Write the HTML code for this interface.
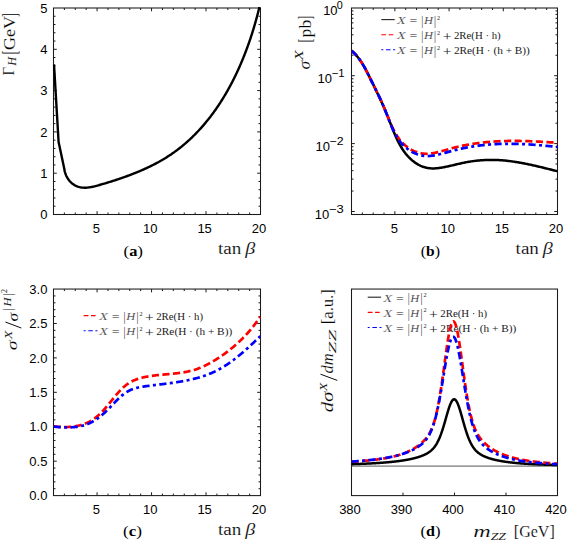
<!DOCTYPE html>
<html><head><meta charset="utf-8"><style>
html,body{margin:0;padding:0;background:#fff;}
svg{display:block;}
text.th{stroke:#fff;stroke-width:0.15px;}
</style></head><body>
<svg width="568" height="542" viewBox="0 0 568 542">
<defs>
<clipPath id="ca"><rect x="52.5" y="7.0" width="209.0" height="208.5"/></clipPath>
<clipPath id="cb"><rect x="351.5" y="8.0" width="206.0" height="206.5"/></clipPath>
<clipPath id="cc"><rect x="53.5" y="289.05" width="207.0" height="206.55"/></clipPath>
<clipPath id="cd"><rect x="351.5" y="289.05" width="206.0" height="206.55"/></clipPath>
</defs>
<rect width="568" height="542" fill="#fff"/>
<line x1="381.3" y1="19.6" x2="394.7" y2="19.6" stroke="#222" stroke-width="1.1"/>
<text x="397.00" y="24.20" font-size="10.6" font-family="'Liberation Serif', serif" fill="#222" textLength="8.60" lengthAdjust="spacingAndGlyphs" font-style="italic" stroke="#fff" stroke-width="0.2">X</text>
<text x="409.50" y="24.20" font-size="10.6" font-family="'Liberation Serif', serif" fill="#222" textLength="7.80" lengthAdjust="spacingAndGlyphs" >=</text>
<text x="421.30" y="24.80" font-size="12" font-family="'Liberation Serif', serif" fill="#222" textLength="2.00" lengthAdjust="spacingAndGlyphs" >|</text>
<text x="423.90" y="24.20" font-size="10.6" font-family="'Liberation Serif', serif" fill="#222" textLength="9.00" lengthAdjust="spacingAndGlyphs" font-style="italic" stroke="#fff" stroke-width="0.2">H</text>
<text x="434.10" y="24.80" font-size="12" font-family="'Liberation Serif', serif" fill="#222" textLength="2.00" lengthAdjust="spacingAndGlyphs" >|</text>
<text x="437.10" y="19.60" font-size="7.0" font-family="'Liberation Serif', serif" fill="#222" textLength="3.10" lengthAdjust="spacingAndGlyphs" >2</text>
<line x1="381.3" y1="34.8" x2="393.3" y2="34.8" stroke="#ff0000" stroke-width="1.1" stroke-dasharray="4.8,2.6"/>
<text x="397.00" y="39.40" font-size="10.6" font-family="'Liberation Serif', serif" fill="#222" textLength="8.60" lengthAdjust="spacingAndGlyphs" font-style="italic" stroke="#fff" stroke-width="0.2">X</text>
<text x="409.50" y="39.40" font-size="10.6" font-family="'Liberation Serif', serif" fill="#222" textLength="7.80" lengthAdjust="spacingAndGlyphs" >=</text>
<text x="421.30" y="40.00" font-size="12" font-family="'Liberation Serif', serif" fill="#222" textLength="2.00" lengthAdjust="spacingAndGlyphs" >|</text>
<text x="423.90" y="39.40" font-size="10.6" font-family="'Liberation Serif', serif" fill="#222" textLength="9.00" lengthAdjust="spacingAndGlyphs" font-style="italic" stroke="#fff" stroke-width="0.2">H</text>
<text x="434.10" y="40.00" font-size="12" font-family="'Liberation Serif', serif" fill="#222" textLength="2.00" lengthAdjust="spacingAndGlyphs" >|</text>
<text x="437.10" y="34.80" font-size="7.0" font-family="'Liberation Serif', serif" fill="#222" textLength="3.10" lengthAdjust="spacingAndGlyphs" >2</text>
<text x="442.70" y="40.90" font-size="12.5" font-family="'Liberation Serif', serif" fill="#222" textLength="8.80" lengthAdjust="spacingAndGlyphs" >+</text>
<text x="453.90" y="39.40" font-size="10.6" font-family="'Liberation Serif', serif" fill="#222" textLength="46.80" lengthAdjust="spacingAndGlyphs" >2Re(H · h)</text>
<line x1="381.3" y1="49.8" x2="395.1" y2="49.8" stroke="#0000ff" stroke-width="1.1" stroke-dasharray="2,2.7,4.5,2.6,2"/>
<text x="397.00" y="54.40" font-size="10.6" font-family="'Liberation Serif', serif" fill="#222" textLength="8.60" lengthAdjust="spacingAndGlyphs" font-style="italic" stroke="#fff" stroke-width="0.2">X</text>
<text x="409.50" y="54.40" font-size="10.6" font-family="'Liberation Serif', serif" fill="#222" textLength="7.80" lengthAdjust="spacingAndGlyphs" >=</text>
<text x="421.30" y="55.00" font-size="12" font-family="'Liberation Serif', serif" fill="#222" textLength="2.00" lengthAdjust="spacingAndGlyphs" >|</text>
<text x="423.90" y="54.40" font-size="10.6" font-family="'Liberation Serif', serif" fill="#222" textLength="9.00" lengthAdjust="spacingAndGlyphs" font-style="italic" stroke="#fff" stroke-width="0.2">H</text>
<text x="434.10" y="55.00" font-size="12" font-family="'Liberation Serif', serif" fill="#222" textLength="2.00" lengthAdjust="spacingAndGlyphs" >|</text>
<text x="437.10" y="49.80" font-size="7.0" font-family="'Liberation Serif', serif" fill="#222" textLength="3.10" lengthAdjust="spacingAndGlyphs" >2</text>
<text x="442.70" y="55.90" font-size="12.5" font-family="'Liberation Serif', serif" fill="#222" textLength="8.80" lengthAdjust="spacingAndGlyphs" >+</text>
<text x="453.90" y="54.40" font-size="10.6" font-family="'Liberation Serif', serif" fill="#222" textLength="76.00" lengthAdjust="spacingAndGlyphs" >2Re(H · (h + B))</text>
<line x1="83.6" y1="315.6" x2="95.6" y2="315.6" stroke="#ff0000" stroke-width="1.1" stroke-dasharray="4.8,2.6"/>
<text x="99.30" y="320.20" font-size="10.6" font-family="'Liberation Serif', serif" fill="#222" textLength="8.60" lengthAdjust="spacingAndGlyphs" font-style="italic" stroke="#fff" stroke-width="0.2">X</text>
<text x="111.80" y="320.20" font-size="10.6" font-family="'Liberation Serif', serif" fill="#222" textLength="7.80" lengthAdjust="spacingAndGlyphs" >=</text>
<text x="123.60" y="320.80" font-size="12" font-family="'Liberation Serif', serif" fill="#222" textLength="2.00" lengthAdjust="spacingAndGlyphs" >|</text>
<text x="126.20" y="320.20" font-size="10.6" font-family="'Liberation Serif', serif" fill="#222" textLength="9.00" lengthAdjust="spacingAndGlyphs" font-style="italic" stroke="#fff" stroke-width="0.2">H</text>
<text x="136.40" y="320.80" font-size="12" font-family="'Liberation Serif', serif" fill="#222" textLength="2.00" lengthAdjust="spacingAndGlyphs" >|</text>
<text x="139.40" y="315.60" font-size="7.0" font-family="'Liberation Serif', serif" fill="#222" textLength="3.10" lengthAdjust="spacingAndGlyphs" >2</text>
<text x="145.00" y="321.70" font-size="12.5" font-family="'Liberation Serif', serif" fill="#222" textLength="8.80" lengthAdjust="spacingAndGlyphs" >+</text>
<text x="156.20" y="320.20" font-size="10.6" font-family="'Liberation Serif', serif" fill="#222" textLength="46.80" lengthAdjust="spacingAndGlyphs" >2Re(H · h)</text>
<line x1="83.6" y1="330.8" x2="97.39999999999999" y2="330.8" stroke="#0000ff" stroke-width="1.1" stroke-dasharray="2,2.7,4.5,2.6,2"/>
<text x="99.30" y="335.40" font-size="10.6" font-family="'Liberation Serif', serif" fill="#222" textLength="8.60" lengthAdjust="spacingAndGlyphs" font-style="italic" stroke="#fff" stroke-width="0.2">X</text>
<text x="111.80" y="335.40" font-size="10.6" font-family="'Liberation Serif', serif" fill="#222" textLength="7.80" lengthAdjust="spacingAndGlyphs" >=</text>
<text x="123.60" y="336.00" font-size="12" font-family="'Liberation Serif', serif" fill="#222" textLength="2.00" lengthAdjust="spacingAndGlyphs" >|</text>
<text x="126.20" y="335.40" font-size="10.6" font-family="'Liberation Serif', serif" fill="#222" textLength="9.00" lengthAdjust="spacingAndGlyphs" font-style="italic" stroke="#fff" stroke-width="0.2">H</text>
<text x="136.40" y="336.00" font-size="12" font-family="'Liberation Serif', serif" fill="#222" textLength="2.00" lengthAdjust="spacingAndGlyphs" >|</text>
<text x="139.40" y="330.80" font-size="7.0" font-family="'Liberation Serif', serif" fill="#222" textLength="3.10" lengthAdjust="spacingAndGlyphs" >2</text>
<text x="145.00" y="336.90" font-size="12.5" font-family="'Liberation Serif', serif" fill="#222" textLength="8.80" lengthAdjust="spacingAndGlyphs" >+</text>
<text x="156.20" y="335.40" font-size="10.6" font-family="'Liberation Serif', serif" fill="#222" textLength="76.00" lengthAdjust="spacingAndGlyphs" >2Re(H · (h + B))</text>
<line x1="367.7" y1="297.2" x2="381.09999999999997" y2="297.2" stroke="#222" stroke-width="1.1"/>
<text x="383.40" y="301.80" font-size="10.6" font-family="'Liberation Serif', serif" fill="#222" textLength="8.60" lengthAdjust="spacingAndGlyphs" font-style="italic" stroke="#fff" stroke-width="0.2">X</text>
<text x="395.90" y="301.80" font-size="10.6" font-family="'Liberation Serif', serif" fill="#222" textLength="7.80" lengthAdjust="spacingAndGlyphs" >=</text>
<text x="407.70" y="302.40" font-size="12" font-family="'Liberation Serif', serif" fill="#222" textLength="2.00" lengthAdjust="spacingAndGlyphs" >|</text>
<text x="410.30" y="301.80" font-size="10.6" font-family="'Liberation Serif', serif" fill="#222" textLength="9.00" lengthAdjust="spacingAndGlyphs" font-style="italic" stroke="#fff" stroke-width="0.2">H</text>
<text x="420.50" y="302.40" font-size="12" font-family="'Liberation Serif', serif" fill="#222" textLength="2.00" lengthAdjust="spacingAndGlyphs" >|</text>
<text x="423.50" y="297.20" font-size="7.0" font-family="'Liberation Serif', serif" fill="#222" textLength="3.10" lengthAdjust="spacingAndGlyphs" >2</text>
<line x1="367.7" y1="312.4" x2="379.7" y2="312.4" stroke="#ff0000" stroke-width="1.1" stroke-dasharray="4.8,2.6"/>
<text x="383.40" y="317.00" font-size="10.6" font-family="'Liberation Serif', serif" fill="#222" textLength="8.60" lengthAdjust="spacingAndGlyphs" font-style="italic" stroke="#fff" stroke-width="0.2">X</text>
<text x="395.90" y="317.00" font-size="10.6" font-family="'Liberation Serif', serif" fill="#222" textLength="7.80" lengthAdjust="spacingAndGlyphs" >=</text>
<text x="407.70" y="317.60" font-size="12" font-family="'Liberation Serif', serif" fill="#222" textLength="2.00" lengthAdjust="spacingAndGlyphs" >|</text>
<text x="410.30" y="317.00" font-size="10.6" font-family="'Liberation Serif', serif" fill="#222" textLength="9.00" lengthAdjust="spacingAndGlyphs" font-style="italic" stroke="#fff" stroke-width="0.2">H</text>
<text x="420.50" y="317.60" font-size="12" font-family="'Liberation Serif', serif" fill="#222" textLength="2.00" lengthAdjust="spacingAndGlyphs" >|</text>
<text x="423.50" y="312.40" font-size="7.0" font-family="'Liberation Serif', serif" fill="#222" textLength="3.10" lengthAdjust="spacingAndGlyphs" >2</text>
<text x="429.10" y="318.50" font-size="12.5" font-family="'Liberation Serif', serif" fill="#222" textLength="8.80" lengthAdjust="spacingAndGlyphs" >+</text>
<text x="440.30" y="317.00" font-size="10.6" font-family="'Liberation Serif', serif" fill="#222" textLength="46.80" lengthAdjust="spacingAndGlyphs" >2Re(H · h)</text>
<line x1="367.7" y1="327.5" x2="381.5" y2="327.5" stroke="#0000ff" stroke-width="1.1" stroke-dasharray="2,2.7,4.5,2.6,2"/>
<text x="383.40" y="332.10" font-size="10.6" font-family="'Liberation Serif', serif" fill="#222" textLength="8.60" lengthAdjust="spacingAndGlyphs" font-style="italic" stroke="#fff" stroke-width="0.2">X</text>
<text x="395.90" y="332.10" font-size="10.6" font-family="'Liberation Serif', serif" fill="#222" textLength="7.80" lengthAdjust="spacingAndGlyphs" >=</text>
<text x="407.70" y="332.70" font-size="12" font-family="'Liberation Serif', serif" fill="#222" textLength="2.00" lengthAdjust="spacingAndGlyphs" >|</text>
<text x="410.30" y="332.10" font-size="10.6" font-family="'Liberation Serif', serif" fill="#222" textLength="9.00" lengthAdjust="spacingAndGlyphs" font-style="italic" stroke="#fff" stroke-width="0.2">H</text>
<text x="420.50" y="332.70" font-size="12" font-family="'Liberation Serif', serif" fill="#222" textLength="2.00" lengthAdjust="spacingAndGlyphs" >|</text>
<text x="423.50" y="327.50" font-size="7.0" font-family="'Liberation Serif', serif" fill="#222" textLength="3.10" lengthAdjust="spacingAndGlyphs" >2</text>
<text x="429.10" y="333.60" font-size="12.5" font-family="'Liberation Serif', serif" fill="#222" textLength="8.80" lengthAdjust="spacingAndGlyphs" >+</text>
<text x="440.30" y="332.10" font-size="10.6" font-family="'Liberation Serif', serif" fill="#222" textLength="76.00" lengthAdjust="spacingAndGlyphs" >2Re(H · (h + B))</text>
<text x="123.5" y="256.3" font-size="15.5" font-family="'Liberation Serif', serif" textLength="19.50" lengthAdjust="spacingAndGlyphs">(<tspan font-weight="bold" font-size="15">a</tspan>)</text>
<text x="420.7" y="256.4" font-size="15.5" font-family="'Liberation Serif', serif" textLength="19.30" lengthAdjust="spacingAndGlyphs">(<tspan font-weight="bold" font-size="15">b</tspan>)</text>
<text x="123.1" y="536.0" font-size="15.5" font-family="'Liberation Serif', serif" textLength="18.90" lengthAdjust="spacingAndGlyphs">(<tspan font-weight="bold" font-size="15">c</tspan>)</text>
<text x="420.6" y="536.0" font-size="15.5" font-family="'Liberation Serif', serif" textLength="20.00" lengthAdjust="spacingAndGlyphs">(<tspan font-weight="bold" font-size="15">d</tspan>)</text>
<text class="th" x="218.00" y="253.90" font-size="16" font-family="'Liberation Serif', serif" fill="#000" textLength="23.30" lengthAdjust="spacingAndGlyphs" >tan</text>
<text class="th" x="245.20" y="253.90" font-size="16" font-family="'Liberation Serif', serif" fill="#000" textLength="10.00" lengthAdjust="spacingAndGlyphs" font-style="italic">β</text>
<text class="th" x="515.60" y="253.90" font-size="16" font-family="'Liberation Serif', serif" fill="#000" textLength="23.30" lengthAdjust="spacingAndGlyphs" >tan</text>
<text class="th" x="542.80" y="253.90" font-size="16" font-family="'Liberation Serif', serif" fill="#000" textLength="10.00" lengthAdjust="spacingAndGlyphs" font-style="italic">β</text>
<text class="th" x="218.00" y="534.50" font-size="16" font-family="'Liberation Serif', serif" fill="#000" textLength="23.30" lengthAdjust="spacingAndGlyphs" >tan</text>
<text class="th" x="245.20" y="534.50" font-size="16" font-family="'Liberation Serif', serif" fill="#000" textLength="10.00" lengthAdjust="spacingAndGlyphs" font-style="italic">β</text>
<text class="th" x="473.20" y="536.80" font-size="16" font-family="'Liberation Serif', serif" fill="#000" textLength="17.50" lengthAdjust="spacingAndGlyphs" font-style="italic">m</text>
<text x="490.70" y="539.80" font-size="11" font-family="'Liberation Serif', serif" fill="#222" textLength="15.30" lengthAdjust="spacingAndGlyphs" font-style="italic">ZZ</text>
<text class="th" x="513.80" y="536.80" font-size="16" font-family="'Liberation Serif', serif" fill="#000" textLength="41.00" lengthAdjust="spacingAndGlyphs" >[GeV]</text>
<text class="th" transform="translate(14.40,75.60) rotate(-90)" x="0" y="0" font-size="17.6" font-family="'Liberation Serif', serif" fill="#000" textLength="8.80" lengthAdjust="spacingAndGlyphs" >Γ</text>
<text transform="translate(16.30,65.80) rotate(-90)" x="0" y="0" font-size="12" font-family="'Liberation Serif', serif" fill="#222" textLength="8.90" lengthAdjust="spacingAndGlyphs" font-style="italic">H</text>
<text class="th" transform="translate(15.80,54.20) rotate(-90)" x="0" y="0" font-size="20.8" font-family="'Liberation Serif', serif" fill="#000" textLength="3.60" lengthAdjust="spacingAndGlyphs" >[</text>
<text class="th" transform="translate(15.00,50.00) rotate(-90)" x="0" y="0" font-size="17" font-family="'Liberation Serif', serif" fill="#000" textLength="34.20" lengthAdjust="spacingAndGlyphs" >GeV</text>
<text class="th" transform="translate(15.80,17.10) rotate(-90)" x="0" y="0" font-size="20.8" font-family="'Liberation Serif', serif" fill="#000" textLength="3.60" lengthAdjust="spacingAndGlyphs" >]</text>
<text class="th" transform="translate(309.60,69.60) rotate(-90)" x="0" y="0" font-size="16" font-family="'Liberation Serif', serif" fill="#000" textLength="8.70" lengthAdjust="spacingAndGlyphs" font-style="italic">σ</text>
<text transform="translate(303.00,60.40) rotate(-90)" x="0" y="0" font-size="12" font-family="'Liberation Serif', serif" fill="#222" textLength="10.40" lengthAdjust="spacingAndGlyphs" font-style="italic">X</text>
<text class="th" transform="translate(310.70,42.20) rotate(-90)" x="0" y="0" font-size="19.4" font-family="'Liberation Serif', serif" fill="#000" textLength="3.60" lengthAdjust="spacingAndGlyphs" >[</text>
<text class="th" transform="translate(310.60,37.40) rotate(-90)" x="0" y="0" font-size="16" font-family="'Liberation Serif', serif" fill="#000" textLength="17.60" lengthAdjust="spacingAndGlyphs" >pb</text>
<text class="th" transform="translate(310.70,19.60) rotate(-90)" x="0" y="0" font-size="19.4" font-family="'Liberation Serif', serif" fill="#000" textLength="3.60" lengthAdjust="spacingAndGlyphs" >]</text>
<text class="th" transform="translate(17.40,350.20) rotate(-90)" x="0" y="0" font-size="15" font-family="'Liberation Serif', serif" fill="#000" textLength="9.80" lengthAdjust="spacingAndGlyphs" font-style="italic">σ</text>
<text transform="translate(11.60,339.20) rotate(-90)" x="0" y="0" font-size="11" font-family="'Liberation Serif', serif" fill="#222" textLength="8.60" lengthAdjust="spacingAndGlyphs" font-style="italic">X</text>
<line x1="5.4" y1="322.0" x2="21.3" y2="328.0" stroke="#000" stroke-width="0.95"/>
<text class="th" transform="translate(18.10,321.50) rotate(-90)" x="0" y="0" font-size="15" font-family="'Liberation Serif', serif" fill="#000" textLength="8.60" lengthAdjust="spacingAndGlyphs" font-style="italic">σ</text>
<text transform="translate(12.10,310.80) rotate(-90)" x="0" y="0" font-size="13" font-family="'Liberation Serif', serif" fill="#222" textLength="2.60" lengthAdjust="spacingAndGlyphs" >|</text>
<text transform="translate(11.00,306.40) rotate(-90)" x="0" y="0" font-size="11" font-family="'Liberation Serif', serif" fill="#222" textLength="9.00" lengthAdjust="spacingAndGlyphs" font-style="italic">H</text>
<text transform="translate(12.10,296.00) rotate(-90)" x="0" y="0" font-size="13" font-family="'Liberation Serif', serif" fill="#222" textLength="2.60" lengthAdjust="spacingAndGlyphs" >|</text>
<text transform="translate(7.10,293.00) rotate(-90)" x="0" y="0" font-size="8" font-family="'Liberation Serif', serif" fill="#222" textLength="4.00" lengthAdjust="spacingAndGlyphs" >2</text>
<text class="th" transform="translate(333.20,412.60) rotate(-90)" x="0" y="0" font-size="16" font-family="'Liberation Serif', serif" fill="#000" textLength="21.00" lengthAdjust="spacingAndGlyphs" font-style="italic">dσ</text>
<text transform="translate(326.60,391.20) rotate(-90)" x="0" y="0" font-size="11" font-family="'Liberation Serif', serif" fill="#222" textLength="8.60" lengthAdjust="spacingAndGlyphs" font-style="italic">X</text>
<line x1="320.5" y1="374.2" x2="337.3" y2="380.4" stroke="#000" stroke-width="0.95"/>
<text class="th" transform="translate(333.20,373.40) rotate(-90)" x="0" y="0" font-size="16" font-family="'Liberation Serif', serif" fill="#000" textLength="20.20" lengthAdjust="spacingAndGlyphs" font-style="italic">dm</text>
<text transform="translate(336.40,353.40) rotate(-90)" x="0" y="0" font-size="11" font-family="'Liberation Serif', serif" fill="#222" textLength="23.60" lengthAdjust="spacingAndGlyphs" font-style="italic">ZZ</text>
<text class="th" transform="translate(333.40,324.20) rotate(-90)" x="0" y="0" font-size="16" font-family="'Liberation Serif', serif" fill="#000" textLength="35.00" lengthAdjust="spacingAndGlyphs" >[a.u.]</text>
<text x="337.60" y="15.10" font-size="13" font-family="'Liberation Sans', sans-serif" text-anchor="end">10</text>
<text x="336.80" y="9.00" font-size="11" font-family="'Liberation Sans', sans-serif" textLength="6.00" lengthAdjust="spacingAndGlyphs">0</text>
<text x="332.00" y="83.00" font-size="13" font-family="'Liberation Sans', sans-serif" text-anchor="end">10</text>
<text x="331.70" y="76.90" font-size="11" font-family="'Liberation Sans', sans-serif" textLength="13.00" lengthAdjust="spacingAndGlyphs">−1</text>
<text x="329.90" y="150.90" font-size="13" font-family="'Liberation Sans', sans-serif" text-anchor="end">10</text>
<text x="329.60" y="144.80" font-size="11" font-family="'Liberation Sans', sans-serif" textLength="14.00" lengthAdjust="spacingAndGlyphs">−2</text>
<text x="329.20" y="218.80" font-size="13" font-family="'Liberation Sans', sans-serif" text-anchor="end">10</text>
<text x="328.90" y="212.70" font-size="11" font-family="'Liberation Sans', sans-serif" textLength="14.80" lengthAdjust="spacingAndGlyphs">−3</text>
<rect x="53.5" y="8.0" width="207.00" height="206.50" fill="none" stroke="#1a1a1a" stroke-width="1.05"/>
<line x1="53.5" y1="173.20" x2="56.8" y2="173.20" stroke="#1a1a1a" stroke-width="1.0"/>
<line x1="260.5" y1="173.20" x2="257.2" y2="173.20" stroke="#1a1a1a" stroke-width="1.0"/>
<line x1="53.5" y1="131.90" x2="56.8" y2="131.90" stroke="#1a1a1a" stroke-width="1.0"/>
<line x1="260.5" y1="131.90" x2="257.2" y2="131.90" stroke="#1a1a1a" stroke-width="1.0"/>
<line x1="53.5" y1="90.60" x2="56.8" y2="90.60" stroke="#1a1a1a" stroke-width="1.0"/>
<line x1="260.5" y1="90.60" x2="257.2" y2="90.60" stroke="#1a1a1a" stroke-width="1.0"/>
<line x1="53.5" y1="49.30" x2="56.8" y2="49.30" stroke="#1a1a1a" stroke-width="1.0"/>
<line x1="260.5" y1="49.30" x2="257.2" y2="49.30" stroke="#1a1a1a" stroke-width="1.0"/>
<line x1="53.5" y1="206.24" x2="55.5" y2="206.24" stroke="#1a1a1a" stroke-width="1.0"/>
<line x1="260.5" y1="206.24" x2="258.5" y2="206.24" stroke="#1a1a1a" stroke-width="1.0"/>
<line x1="53.5" y1="197.98" x2="55.5" y2="197.98" stroke="#1a1a1a" stroke-width="1.0"/>
<line x1="260.5" y1="197.98" x2="258.5" y2="197.98" stroke="#1a1a1a" stroke-width="1.0"/>
<line x1="53.5" y1="189.72" x2="55.5" y2="189.72" stroke="#1a1a1a" stroke-width="1.0"/>
<line x1="260.5" y1="189.72" x2="258.5" y2="189.72" stroke="#1a1a1a" stroke-width="1.0"/>
<line x1="53.5" y1="181.46" x2="55.5" y2="181.46" stroke="#1a1a1a" stroke-width="1.0"/>
<line x1="260.5" y1="181.46" x2="258.5" y2="181.46" stroke="#1a1a1a" stroke-width="1.0"/>
<line x1="53.5" y1="164.94" x2="55.5" y2="164.94" stroke="#1a1a1a" stroke-width="1.0"/>
<line x1="260.5" y1="164.94" x2="258.5" y2="164.94" stroke="#1a1a1a" stroke-width="1.0"/>
<line x1="53.5" y1="156.68" x2="55.5" y2="156.68" stroke="#1a1a1a" stroke-width="1.0"/>
<line x1="260.5" y1="156.68" x2="258.5" y2="156.68" stroke="#1a1a1a" stroke-width="1.0"/>
<line x1="53.5" y1="148.42" x2="55.5" y2="148.42" stroke="#1a1a1a" stroke-width="1.0"/>
<line x1="260.5" y1="148.42" x2="258.5" y2="148.42" stroke="#1a1a1a" stroke-width="1.0"/>
<line x1="53.5" y1="140.16" x2="55.5" y2="140.16" stroke="#1a1a1a" stroke-width="1.0"/>
<line x1="260.5" y1="140.16" x2="258.5" y2="140.16" stroke="#1a1a1a" stroke-width="1.0"/>
<line x1="53.5" y1="123.64" x2="55.5" y2="123.64" stroke="#1a1a1a" stroke-width="1.0"/>
<line x1="260.5" y1="123.64" x2="258.5" y2="123.64" stroke="#1a1a1a" stroke-width="1.0"/>
<line x1="53.5" y1="115.38" x2="55.5" y2="115.38" stroke="#1a1a1a" stroke-width="1.0"/>
<line x1="260.5" y1="115.38" x2="258.5" y2="115.38" stroke="#1a1a1a" stroke-width="1.0"/>
<line x1="53.5" y1="107.12" x2="55.5" y2="107.12" stroke="#1a1a1a" stroke-width="1.0"/>
<line x1="260.5" y1="107.12" x2="258.5" y2="107.12" stroke="#1a1a1a" stroke-width="1.0"/>
<line x1="53.5" y1="98.86" x2="55.5" y2="98.86" stroke="#1a1a1a" stroke-width="1.0"/>
<line x1="260.5" y1="98.86" x2="258.5" y2="98.86" stroke="#1a1a1a" stroke-width="1.0"/>
<line x1="53.5" y1="82.34" x2="55.5" y2="82.34" stroke="#1a1a1a" stroke-width="1.0"/>
<line x1="260.5" y1="82.34" x2="258.5" y2="82.34" stroke="#1a1a1a" stroke-width="1.0"/>
<line x1="53.5" y1="74.08" x2="55.5" y2="74.08" stroke="#1a1a1a" stroke-width="1.0"/>
<line x1="260.5" y1="74.08" x2="258.5" y2="74.08" stroke="#1a1a1a" stroke-width="1.0"/>
<line x1="53.5" y1="65.82" x2="55.5" y2="65.82" stroke="#1a1a1a" stroke-width="1.0"/>
<line x1="260.5" y1="65.82" x2="258.5" y2="65.82" stroke="#1a1a1a" stroke-width="1.0"/>
<line x1="53.5" y1="57.56" x2="55.5" y2="57.56" stroke="#1a1a1a" stroke-width="1.0"/>
<line x1="260.5" y1="57.56" x2="258.5" y2="57.56" stroke="#1a1a1a" stroke-width="1.0"/>
<line x1="53.5" y1="41.04" x2="55.5" y2="41.04" stroke="#1a1a1a" stroke-width="1.0"/>
<line x1="260.5" y1="41.04" x2="258.5" y2="41.04" stroke="#1a1a1a" stroke-width="1.0"/>
<line x1="53.5" y1="32.78" x2="55.5" y2="32.78" stroke="#1a1a1a" stroke-width="1.0"/>
<line x1="260.5" y1="32.78" x2="258.5" y2="32.78" stroke="#1a1a1a" stroke-width="1.0"/>
<line x1="53.5" y1="24.52" x2="55.5" y2="24.52" stroke="#1a1a1a" stroke-width="1.0"/>
<line x1="260.5" y1="24.52" x2="258.5" y2="24.52" stroke="#1a1a1a" stroke-width="1.0"/>
<line x1="53.5" y1="16.26" x2="55.5" y2="16.26" stroke="#1a1a1a" stroke-width="1.0"/>
<line x1="260.5" y1="16.26" x2="258.5" y2="16.26" stroke="#1a1a1a" stroke-width="1.0"/>
<line x1="97.08" y1="214.5" x2="97.08" y2="211.2" stroke="#1a1a1a" stroke-width="1.0"/>
<line x1="97.08" y1="8.0" x2="97.08" y2="11.3" stroke="#1a1a1a" stroke-width="1.0"/>
<line x1="151.55" y1="214.5" x2="151.55" y2="211.2" stroke="#1a1a1a" stroke-width="1.0"/>
<line x1="151.55" y1="8.0" x2="151.55" y2="11.3" stroke="#1a1a1a" stroke-width="1.0"/>
<line x1="206.03" y1="214.5" x2="206.03" y2="211.2" stroke="#1a1a1a" stroke-width="1.0"/>
<line x1="206.03" y1="8.0" x2="206.03" y2="11.3" stroke="#1a1a1a" stroke-width="1.0"/>
<line x1="64.39" y1="214.5" x2="64.39" y2="212.5" stroke="#1a1a1a" stroke-width="1.0"/>
<line x1="64.39" y1="8.0" x2="64.39" y2="10.0" stroke="#1a1a1a" stroke-width="1.0"/>
<line x1="75.29" y1="214.5" x2="75.29" y2="212.5" stroke="#1a1a1a" stroke-width="1.0"/>
<line x1="75.29" y1="8.0" x2="75.29" y2="10.0" stroke="#1a1a1a" stroke-width="1.0"/>
<line x1="86.18" y1="214.5" x2="86.18" y2="212.5" stroke="#1a1a1a" stroke-width="1.0"/>
<line x1="86.18" y1="8.0" x2="86.18" y2="10.0" stroke="#1a1a1a" stroke-width="1.0"/>
<line x1="107.97" y1="214.5" x2="107.97" y2="212.5" stroke="#1a1a1a" stroke-width="1.0"/>
<line x1="107.97" y1="8.0" x2="107.97" y2="10.0" stroke="#1a1a1a" stroke-width="1.0"/>
<line x1="118.87" y1="214.5" x2="118.87" y2="212.5" stroke="#1a1a1a" stroke-width="1.0"/>
<line x1="118.87" y1="8.0" x2="118.87" y2="10.0" stroke="#1a1a1a" stroke-width="1.0"/>
<line x1="129.76" y1="214.5" x2="129.76" y2="212.5" stroke="#1a1a1a" stroke-width="1.0"/>
<line x1="129.76" y1="8.0" x2="129.76" y2="10.0" stroke="#1a1a1a" stroke-width="1.0"/>
<line x1="140.66" y1="214.5" x2="140.66" y2="212.5" stroke="#1a1a1a" stroke-width="1.0"/>
<line x1="140.66" y1="8.0" x2="140.66" y2="10.0" stroke="#1a1a1a" stroke-width="1.0"/>
<line x1="162.45" y1="214.5" x2="162.45" y2="212.5" stroke="#1a1a1a" stroke-width="1.0"/>
<line x1="162.45" y1="8.0" x2="162.45" y2="10.0" stroke="#1a1a1a" stroke-width="1.0"/>
<line x1="173.34" y1="214.5" x2="173.34" y2="212.5" stroke="#1a1a1a" stroke-width="1.0"/>
<line x1="173.34" y1="8.0" x2="173.34" y2="10.0" stroke="#1a1a1a" stroke-width="1.0"/>
<line x1="184.24" y1="214.5" x2="184.24" y2="212.5" stroke="#1a1a1a" stroke-width="1.0"/>
<line x1="184.24" y1="8.0" x2="184.24" y2="10.0" stroke="#1a1a1a" stroke-width="1.0"/>
<line x1="195.13" y1="214.5" x2="195.13" y2="212.5" stroke="#1a1a1a" stroke-width="1.0"/>
<line x1="195.13" y1="8.0" x2="195.13" y2="10.0" stroke="#1a1a1a" stroke-width="1.0"/>
<line x1="216.92" y1="214.5" x2="216.92" y2="212.5" stroke="#1a1a1a" stroke-width="1.0"/>
<line x1="216.92" y1="8.0" x2="216.92" y2="10.0" stroke="#1a1a1a" stroke-width="1.0"/>
<line x1="227.82" y1="214.5" x2="227.82" y2="212.5" stroke="#1a1a1a" stroke-width="1.0"/>
<line x1="227.82" y1="8.0" x2="227.82" y2="10.0" stroke="#1a1a1a" stroke-width="1.0"/>
<line x1="238.71" y1="214.5" x2="238.71" y2="212.5" stroke="#1a1a1a" stroke-width="1.0"/>
<line x1="238.71" y1="8.0" x2="238.71" y2="10.0" stroke="#1a1a1a" stroke-width="1.0"/>
<line x1="249.61" y1="214.5" x2="249.61" y2="212.5" stroke="#1a1a1a" stroke-width="1.0"/>
<line x1="249.61" y1="8.0" x2="249.61" y2="10.0" stroke="#1a1a1a" stroke-width="1.0"/>
<text x="96.48" y="232.80" font-size="13" text-anchor="middle" font-family="'Liberation Sans', sans-serif" >5</text>
<text x="150.15" y="232.80" font-size="13" text-anchor="middle" font-family="'Liberation Sans', sans-serif" >10</text>
<text x="204.63" y="232.80" font-size="13" text-anchor="middle" font-family="'Liberation Sans', sans-serif" >15</text>
<text x="259.10" y="232.80" font-size="13" text-anchor="middle" font-family="'Liberation Sans', sans-serif" >20</text>
<text x="47.40" y="219.20" font-size="13" text-anchor="end" font-family="'Liberation Sans', sans-serif" >0</text>
<text x="47.40" y="177.90" font-size="13" text-anchor="end" font-family="'Liberation Sans', sans-serif" >1</text>
<text x="47.40" y="136.60" font-size="13" text-anchor="end" font-family="'Liberation Sans', sans-serif" >2</text>
<text x="47.40" y="95.30" font-size="13" text-anchor="end" font-family="'Liberation Sans', sans-serif" >3</text>
<text x="47.40" y="54.00" font-size="13" text-anchor="end" font-family="'Liberation Sans', sans-serif" >4</text>
<text x="47.40" y="12.70" font-size="13" text-anchor="end" font-family="'Liberation Sans', sans-serif" >5</text>
<path d="M54.00,64.40 L58.60,142.00 L64.50,169.80 L64.50,169.80 L64.50,170.40 L64.82,171.66 L65.18,172.87 L65.58,174.02 L66.02,175.13 L66.50,176.19 L67.01,177.19 L67.56,178.15 L68.13,179.06 L68.74,179.92 L69.38,180.73 L70.04,181.49 L70.73,182.21 L71.45,182.88 L72.19,183.50 L72.95,184.08 L73.73,184.62 L74.53,185.11 L75.35,185.55 L76.18,185.95 L77.03,186.31 L77.89,186.63 L78.76,186.90 L79.65,187.14 L80.54,187.33 L81.44,187.48 L82.34,187.59 L83.25,187.67 L84.17,187.71 L85.09,187.71 L86.02,187.69 L86.95,187.63 L87.89,187.55 L88.83,187.43 L89.77,187.30 L90.72,187.14 L91.67,186.96 L92.63,186.76 L93.58,186.55 L94.54,186.32 L95.50,186.08 L96.47,185.83 L97.43,185.57 L98.40,185.30 L99.36,185.02 L100.33,184.74 L101.30,184.46 L102.27,184.18 L103.23,183.90 L104.20,183.61 L105.17,183.32 L106.14,183.03 L107.11,182.74 L108.08,182.44 L109.05,182.15 L110.02,181.85 L110.98,181.55 L111.95,181.24 L112.92,180.93 L113.89,180.62 L114.85,180.31 L115.82,180.00 L116.79,179.68 L117.75,179.36 L118.72,179.04 L119.68,178.71 L120.64,178.38 L121.61,178.05 L122.57,177.72 L123.53,177.38 L124.49,177.04 L125.44,176.70 L126.40,176.35 L127.36,176.00 L128.31,175.65 L129.26,175.29 L130.22,174.93 L131.17,174.57 L132.11,174.20 L133.06,173.84 L134.01,173.46 L134.95,173.09 L135.89,172.71 L136.83,172.32 L137.77,171.94 L138.71,171.55 L139.64,171.15 L140.57,170.76 L141.50,170.35 L142.43,169.95 L143.35,169.54 L144.28,169.13 L145.20,168.71 L146.12,168.29 L147.03,167.86 L147.94,167.43 L148.85,167.00 L149.76,166.56 L150.67,166.12 L151.57,165.68 L152.47,165.23 L153.36,164.77 L154.26,164.31 L155.15,163.85 L156.03,163.38 L156.92,162.91 L157.80,162.43 L158.68,161.95 L159.55,161.46 L160.42,160.97 L161.29,160.48 L162.15,159.98 L163.01,159.47 L163.87,158.96 L164.72,158.45 L165.57,157.93 L166.41,157.40 L167.26,156.87 L168.09,156.34 L168.93,155.80 L169.75,155.26 L170.58,154.71 L171.40,154.15 L172.22,153.59 L173.03,153.02 L173.84,152.45 L174.64,151.88 L175.44,151.30 L176.24,150.71 L177.03,150.12 L177.82,149.53 L178.60,148.93 L179.38,148.32 L180.16,147.71 L180.93,147.10 L181.70,146.48 L182.46,145.85 L183.22,145.23 L183.98,144.59 L184.73,143.95 L185.47,143.31 L186.22,142.67 L186.96,142.01 L187.69,141.36 L188.43,140.70 L189.15,140.03 L189.88,139.37 L190.60,138.69 L191.31,138.01 L192.03,137.33 L192.74,136.65 L193.44,135.96 L194.14,135.26 L194.84,134.56 L195.53,133.86 L196.22,133.16 L196.90,132.44 L197.59,131.73 L198.26,131.01 L198.94,130.29 L199.61,129.56 L200.27,128.83 L200.94,128.10 L201.59,127.36 L202.25,126.62 L202.90,125.87 L203.55,125.13 L204.19,124.37 L204.83,123.62 L205.47,122.86 L206.10,122.09 L206.73,121.33 L207.35,120.56 L207.97,119.78 L208.59,119.01 L209.21,118.23 L209.82,117.44 L210.42,116.66 L211.03,115.87 L211.63,115.07 L212.22,114.27 L212.81,113.47 L213.40,112.67 L213.99,111.86 L214.57,111.06 L215.14,110.24 L215.72,109.43 L216.29,108.61 L216.86,107.79 L217.42,106.96 L217.98,106.14 L218.54,105.31 L219.09,104.47 L219.64,103.64 L220.18,102.80 L220.73,101.96 L221.26,101.11 L221.80,100.27 L222.33,99.42 L222.86,98.57 L223.38,97.71 L223.91,96.86 L224.42,96.00 L224.94,95.14 L225.45,94.27 L225.96,93.40 L226.46,92.54 L226.96,91.66 L227.46,90.79 L227.95,89.92 L228.44,89.04 L228.93,88.16 L229.42,87.28 L229.90,86.39 L230.37,85.50 L230.85,84.62 L231.32,83.73 L231.78,82.83 L232.25,81.94 L232.71,81.04 L233.17,80.14 L233.62,79.24 L234.07,78.34 L234.52,77.44 L234.96,76.53 L235.41,75.63 L235.84,74.72 L236.28,73.81 L236.71,72.89 L237.14,71.98 L237.56,71.07 L237.98,70.15 L238.40,69.23 L238.82,68.31 L239.23,67.39 L239.64,66.47 L240.05,65.54 L240.45,64.62 L240.85,63.69 L241.24,62.76 L241.64,61.84 L242.03,60.91 L242.42,59.97 L242.80,59.04 L243.18,58.11 L243.56,57.17 L243.93,56.24 L244.31,55.30 L244.67,54.37 L245.04,53.43 L245.40,52.49 L245.76,51.55 L246.12,50.61 L246.47,49.66 L246.82,48.72 L247.17,47.78 L247.52,46.84 L247.86,45.89 L248.20,44.95 L248.53,44.00 L248.87,43.05 L249.20,42.11 L249.52,41.16 L249.85,40.21 L250.17,39.26 L250.49,38.32 L250.80,37.37 L251.12,36.42 L251.42,35.47 L251.73,34.52 L252.04,33.57 L252.34,32.62 L252.64,31.67 L252.93,30.72 L253.22,29.77 L253.51,28.82 L253.80,27.87 L254.08,26.92 L254.37,25.97 L254.64,25.02 L254.92,24.06 L255.19,23.11 L255.46,22.16 L255.73,21.22 L256.00,20.27 L256.26,19.32 L256.52,18.37 L256.78,17.42 L257.03,16.47 L257.28,15.52 L257.53,14.58 L257.78,13.63 L258.02,12.68 L258.26,11.74 L258.50,10.79 L258.73,9.85 L258.97,8.90 L259.20,7.96 L259.42,7.02" fill="none" stroke="#000" stroke-width="2.4" stroke-linejoin="round" clip-path="url(#ca)"/>
<rect x="351.5" y="8.0" width="206.00" height="206.50" fill="none" stroke="#1a1a1a" stroke-width="1.05"/>
<line x1="351.5" y1="75.70" x2="354.8" y2="75.70" stroke="#1a1a1a" stroke-width="1.0"/>
<line x1="557.5" y1="75.70" x2="554.2" y2="75.70" stroke="#1a1a1a" stroke-width="1.0"/>
<line x1="351.5" y1="143.60" x2="354.8" y2="143.60" stroke="#1a1a1a" stroke-width="1.0"/>
<line x1="557.5" y1="143.60" x2="554.2" y2="143.60" stroke="#1a1a1a" stroke-width="1.0"/>
<line x1="351.5" y1="211.50" x2="354.8" y2="211.50" stroke="#1a1a1a" stroke-width="1.0"/>
<line x1="557.5" y1="211.50" x2="554.2" y2="211.50" stroke="#1a1a1a" stroke-width="1.0"/>
<line x1="351.5" y1="55.26" x2="353.5" y2="55.26" stroke="#1a1a1a" stroke-width="1.0"/>
<line x1="557.5" y1="55.26" x2="555.5" y2="55.26" stroke="#1a1a1a" stroke-width="1.0"/>
<line x1="351.5" y1="43.30" x2="353.5" y2="43.30" stroke="#1a1a1a" stroke-width="1.0"/>
<line x1="557.5" y1="43.30" x2="555.5" y2="43.30" stroke="#1a1a1a" stroke-width="1.0"/>
<line x1="351.5" y1="34.82" x2="353.5" y2="34.82" stroke="#1a1a1a" stroke-width="1.0"/>
<line x1="557.5" y1="34.82" x2="555.5" y2="34.82" stroke="#1a1a1a" stroke-width="1.0"/>
<line x1="351.5" y1="28.24" x2="353.5" y2="28.24" stroke="#1a1a1a" stroke-width="1.0"/>
<line x1="557.5" y1="28.24" x2="555.5" y2="28.24" stroke="#1a1a1a" stroke-width="1.0"/>
<line x1="351.5" y1="22.86" x2="353.5" y2="22.86" stroke="#1a1a1a" stroke-width="1.0"/>
<line x1="557.5" y1="22.86" x2="555.5" y2="22.86" stroke="#1a1a1a" stroke-width="1.0"/>
<line x1="351.5" y1="18.32" x2="353.5" y2="18.32" stroke="#1a1a1a" stroke-width="1.0"/>
<line x1="557.5" y1="18.32" x2="555.5" y2="18.32" stroke="#1a1a1a" stroke-width="1.0"/>
<line x1="351.5" y1="14.38" x2="353.5" y2="14.38" stroke="#1a1a1a" stroke-width="1.0"/>
<line x1="557.5" y1="14.38" x2="555.5" y2="14.38" stroke="#1a1a1a" stroke-width="1.0"/>
<line x1="351.5" y1="10.91" x2="353.5" y2="10.91" stroke="#1a1a1a" stroke-width="1.0"/>
<line x1="557.5" y1="10.91" x2="555.5" y2="10.91" stroke="#1a1a1a" stroke-width="1.0"/>
<line x1="351.5" y1="123.16" x2="353.5" y2="123.16" stroke="#1a1a1a" stroke-width="1.0"/>
<line x1="557.5" y1="123.16" x2="555.5" y2="123.16" stroke="#1a1a1a" stroke-width="1.0"/>
<line x1="351.5" y1="111.20" x2="353.5" y2="111.20" stroke="#1a1a1a" stroke-width="1.0"/>
<line x1="557.5" y1="111.20" x2="555.5" y2="111.20" stroke="#1a1a1a" stroke-width="1.0"/>
<line x1="351.5" y1="102.72" x2="353.5" y2="102.72" stroke="#1a1a1a" stroke-width="1.0"/>
<line x1="557.5" y1="102.72" x2="555.5" y2="102.72" stroke="#1a1a1a" stroke-width="1.0"/>
<line x1="351.5" y1="96.14" x2="353.5" y2="96.14" stroke="#1a1a1a" stroke-width="1.0"/>
<line x1="557.5" y1="96.14" x2="555.5" y2="96.14" stroke="#1a1a1a" stroke-width="1.0"/>
<line x1="351.5" y1="90.76" x2="353.5" y2="90.76" stroke="#1a1a1a" stroke-width="1.0"/>
<line x1="557.5" y1="90.76" x2="555.5" y2="90.76" stroke="#1a1a1a" stroke-width="1.0"/>
<line x1="351.5" y1="86.22" x2="353.5" y2="86.22" stroke="#1a1a1a" stroke-width="1.0"/>
<line x1="557.5" y1="86.22" x2="555.5" y2="86.22" stroke="#1a1a1a" stroke-width="1.0"/>
<line x1="351.5" y1="82.28" x2="353.5" y2="82.28" stroke="#1a1a1a" stroke-width="1.0"/>
<line x1="557.5" y1="82.28" x2="555.5" y2="82.28" stroke="#1a1a1a" stroke-width="1.0"/>
<line x1="351.5" y1="78.81" x2="353.5" y2="78.81" stroke="#1a1a1a" stroke-width="1.0"/>
<line x1="557.5" y1="78.81" x2="555.5" y2="78.81" stroke="#1a1a1a" stroke-width="1.0"/>
<line x1="351.5" y1="191.06" x2="353.5" y2="191.06" stroke="#1a1a1a" stroke-width="1.0"/>
<line x1="557.5" y1="191.06" x2="555.5" y2="191.06" stroke="#1a1a1a" stroke-width="1.0"/>
<line x1="351.5" y1="179.10" x2="353.5" y2="179.10" stroke="#1a1a1a" stroke-width="1.0"/>
<line x1="557.5" y1="179.10" x2="555.5" y2="179.10" stroke="#1a1a1a" stroke-width="1.0"/>
<line x1="351.5" y1="170.62" x2="353.5" y2="170.62" stroke="#1a1a1a" stroke-width="1.0"/>
<line x1="557.5" y1="170.62" x2="555.5" y2="170.62" stroke="#1a1a1a" stroke-width="1.0"/>
<line x1="351.5" y1="164.04" x2="353.5" y2="164.04" stroke="#1a1a1a" stroke-width="1.0"/>
<line x1="557.5" y1="164.04" x2="555.5" y2="164.04" stroke="#1a1a1a" stroke-width="1.0"/>
<line x1="351.5" y1="158.66" x2="353.5" y2="158.66" stroke="#1a1a1a" stroke-width="1.0"/>
<line x1="557.5" y1="158.66" x2="555.5" y2="158.66" stroke="#1a1a1a" stroke-width="1.0"/>
<line x1="351.5" y1="154.12" x2="353.5" y2="154.12" stroke="#1a1a1a" stroke-width="1.0"/>
<line x1="557.5" y1="154.12" x2="555.5" y2="154.12" stroke="#1a1a1a" stroke-width="1.0"/>
<line x1="351.5" y1="150.18" x2="353.5" y2="150.18" stroke="#1a1a1a" stroke-width="1.0"/>
<line x1="557.5" y1="150.18" x2="555.5" y2="150.18" stroke="#1a1a1a" stroke-width="1.0"/>
<line x1="351.5" y1="146.71" x2="353.5" y2="146.71" stroke="#1a1a1a" stroke-width="1.0"/>
<line x1="557.5" y1="146.71" x2="555.5" y2="146.71" stroke="#1a1a1a" stroke-width="1.0"/>
<line x1="394.87" y1="214.5" x2="394.87" y2="211.2" stroke="#1a1a1a" stroke-width="1.0"/>
<line x1="394.87" y1="8.0" x2="394.87" y2="11.3" stroke="#1a1a1a" stroke-width="1.0"/>
<line x1="449.08" y1="214.5" x2="449.08" y2="211.2" stroke="#1a1a1a" stroke-width="1.0"/>
<line x1="449.08" y1="8.0" x2="449.08" y2="11.3" stroke="#1a1a1a" stroke-width="1.0"/>
<line x1="503.29" y1="214.5" x2="503.29" y2="211.2" stroke="#1a1a1a" stroke-width="1.0"/>
<line x1="503.29" y1="8.0" x2="503.29" y2="11.3" stroke="#1a1a1a" stroke-width="1.0"/>
<line x1="362.34" y1="214.5" x2="362.34" y2="212.5" stroke="#1a1a1a" stroke-width="1.0"/>
<line x1="362.34" y1="8.0" x2="362.34" y2="10.0" stroke="#1a1a1a" stroke-width="1.0"/>
<line x1="373.18" y1="214.5" x2="373.18" y2="212.5" stroke="#1a1a1a" stroke-width="1.0"/>
<line x1="373.18" y1="8.0" x2="373.18" y2="10.0" stroke="#1a1a1a" stroke-width="1.0"/>
<line x1="384.03" y1="214.5" x2="384.03" y2="212.5" stroke="#1a1a1a" stroke-width="1.0"/>
<line x1="384.03" y1="8.0" x2="384.03" y2="10.0" stroke="#1a1a1a" stroke-width="1.0"/>
<line x1="405.71" y1="214.5" x2="405.71" y2="212.5" stroke="#1a1a1a" stroke-width="1.0"/>
<line x1="405.71" y1="8.0" x2="405.71" y2="10.0" stroke="#1a1a1a" stroke-width="1.0"/>
<line x1="416.55" y1="214.5" x2="416.55" y2="212.5" stroke="#1a1a1a" stroke-width="1.0"/>
<line x1="416.55" y1="8.0" x2="416.55" y2="10.0" stroke="#1a1a1a" stroke-width="1.0"/>
<line x1="427.39" y1="214.5" x2="427.39" y2="212.5" stroke="#1a1a1a" stroke-width="1.0"/>
<line x1="427.39" y1="8.0" x2="427.39" y2="10.0" stroke="#1a1a1a" stroke-width="1.0"/>
<line x1="438.24" y1="214.5" x2="438.24" y2="212.5" stroke="#1a1a1a" stroke-width="1.0"/>
<line x1="438.24" y1="8.0" x2="438.24" y2="10.0" stroke="#1a1a1a" stroke-width="1.0"/>
<line x1="459.92" y1="214.5" x2="459.92" y2="212.5" stroke="#1a1a1a" stroke-width="1.0"/>
<line x1="459.92" y1="8.0" x2="459.92" y2="10.0" stroke="#1a1a1a" stroke-width="1.0"/>
<line x1="470.76" y1="214.5" x2="470.76" y2="212.5" stroke="#1a1a1a" stroke-width="1.0"/>
<line x1="470.76" y1="8.0" x2="470.76" y2="10.0" stroke="#1a1a1a" stroke-width="1.0"/>
<line x1="481.61" y1="214.5" x2="481.61" y2="212.5" stroke="#1a1a1a" stroke-width="1.0"/>
<line x1="481.61" y1="8.0" x2="481.61" y2="10.0" stroke="#1a1a1a" stroke-width="1.0"/>
<line x1="492.45" y1="214.5" x2="492.45" y2="212.5" stroke="#1a1a1a" stroke-width="1.0"/>
<line x1="492.45" y1="8.0" x2="492.45" y2="10.0" stroke="#1a1a1a" stroke-width="1.0"/>
<line x1="514.13" y1="214.5" x2="514.13" y2="212.5" stroke="#1a1a1a" stroke-width="1.0"/>
<line x1="514.13" y1="8.0" x2="514.13" y2="10.0" stroke="#1a1a1a" stroke-width="1.0"/>
<line x1="524.97" y1="214.5" x2="524.97" y2="212.5" stroke="#1a1a1a" stroke-width="1.0"/>
<line x1="524.97" y1="8.0" x2="524.97" y2="10.0" stroke="#1a1a1a" stroke-width="1.0"/>
<line x1="535.82" y1="214.5" x2="535.82" y2="212.5" stroke="#1a1a1a" stroke-width="1.0"/>
<line x1="535.82" y1="8.0" x2="535.82" y2="10.0" stroke="#1a1a1a" stroke-width="1.0"/>
<line x1="546.66" y1="214.5" x2="546.66" y2="212.5" stroke="#1a1a1a" stroke-width="1.0"/>
<line x1="546.66" y1="8.0" x2="546.66" y2="10.0" stroke="#1a1a1a" stroke-width="1.0"/>
<text x="394.27" y="232.80" font-size="13" text-anchor="middle" font-family="'Liberation Sans', sans-serif" >5</text>
<text x="447.68" y="232.80" font-size="13" text-anchor="middle" font-family="'Liberation Sans', sans-serif" >10</text>
<text x="501.89" y="232.80" font-size="13" text-anchor="middle" font-family="'Liberation Sans', sans-serif" >15</text>
<text x="556.10" y="232.80" font-size="13" text-anchor="middle" font-family="'Liberation Sans', sans-serif" >20</text>
<path d="M351.44,50.69 L352.14,51.28 L352.83,51.89 L353.51,52.50 L354.17,53.13 L354.81,53.78 L355.44,54.44 L356.06,55.11 L356.67,55.79 L357.26,56.49 L357.84,57.19 L358.41,57.91 L358.97,58.64 L359.51,59.38 L360.05,60.12 L360.57,60.88 L361.09,61.64 L361.59,62.42 L362.09,63.20 L362.58,63.98 L363.06,64.78 L363.53,65.58 L364.00,66.38 L364.46,67.19 L364.91,68.01 L365.36,68.83 L365.80,69.65 L366.24,70.48 L366.67,71.31 L367.09,72.14 L367.52,72.97 L367.94,73.81 L368.36,74.64 L368.77,75.48 L369.18,76.32 L369.59,77.15 L370.00,77.99 L370.41,78.82 L370.82,79.66 L371.23,80.49 L371.63,81.32 L372.04,82.14 L372.45,82.97 L372.85,83.80 L373.25,84.62 L373.66,85.45 L374.06,86.27 L374.46,87.09 L374.86,87.92 L375.26,88.74 L375.66,89.56 L376.06,90.38 L376.45,91.20 L376.85,92.02 L377.24,92.84 L377.64,93.67 L378.03,94.49 L378.42,95.31 L378.81,96.13 L379.19,96.95 L379.58,97.78 L379.97,98.60 L380.35,99.43 L380.73,100.25 L381.11,101.08 L381.49,101.91 L381.87,102.74 L382.25,103.57 L382.62,104.41 L382.99,105.24 L383.36,106.08 L383.73,106.91 L384.10,107.75 L384.47,108.60 L384.83,109.44 L385.19,110.29 L385.55,111.14 L385.91,111.99 L386.26,112.84 L386.62,113.70 L386.97,114.56 L387.32,115.42 L387.67,116.28 L388.01,117.15 L388.36,118.02 L388.70,118.90 L389.04,119.77 L389.38,120.65 L389.72,121.53 L390.06,122.41 L390.40,123.29 L390.74,124.17 L391.08,125.06 L391.42,125.94 L391.76,126.82 L392.10,127.70 L392.45,128.59 L392.80,129.47 L393.15,130.35 L393.51,131.22 L393.86,132.10 L394.22,132.97 L394.59,133.84 L394.96,134.71 L395.33,135.58 L395.71,136.44 L396.09,137.30 L396.48,138.15 L396.88,139.00 L397.28,139.84 L397.69,140.69 L398.10,141.52 L398.52,142.35 L398.95,143.17 L399.39,143.99 L399.84,144.80 L400.29,145.61 L400.75,146.41 L401.22,147.20 L401.70,147.98 L402.19,148.76 L402.69,149.53 L403.20,150.29 L403.73,151.04 L404.26,151.78 L404.80,152.51 L405.36,153.24 L405.92,153.95 L406.50,154.65 L407.09,155.34 L407.70,156.03 L408.32,156.70 L408.95,157.36 L409.59,158.00 L410.25,158.64 L410.92,159.26 L411.60,159.87 L412.29,160.46 L413.00,161.03 L413.72,161.59 L414.44,162.14 L415.18,162.66 L415.93,163.17 L416.69,163.66 L417.46,164.12 L418.24,164.57 L419.03,165.00 L419.83,165.40 L420.64,165.78 L421.46,166.14 L422.29,166.48 L423.12,166.79 L423.96,167.07 L424.82,167.33 L425.67,167.56 L426.54,167.76 L427.41,167.94 L428.30,168.09 L429.18,168.21 L430.08,168.30 L430.97,168.37 L431.88,168.41 L432.79,168.42 L433.70,168.42 L434.62,168.39 L435.54,168.34 L436.46,168.28 L437.39,168.19 L438.32,168.09 L439.25,167.98 L440.18,167.85 L441.12,167.70 L442.05,167.55 L442.98,167.38 L443.91,167.21 L444.85,167.03 L445.78,166.84 L446.70,166.64 L447.63,166.44 L448.55,166.23 L449.48,166.03 L450.40,165.82 L451.32,165.60 L452.23,165.39 L453.15,165.17 L454.06,164.95 L454.97,164.74 L455.88,164.52 L456.80,164.30 L457.71,164.09 L458.61,163.88 L459.52,163.67 L460.43,163.46 L461.34,163.26 L462.25,163.06 L463.16,162.86 L464.07,162.67 L464.98,162.49 L465.89,162.31 L466.80,162.14 L467.71,161.98 L468.62,161.82 L469.53,161.66 L470.45,161.52 L471.36,161.38 L472.27,161.25 L473.19,161.12 L474.10,161.00 L475.02,160.88 L475.93,160.78 L476.85,160.67 L477.77,160.58 L478.68,160.49 L479.60,160.41 L480.52,160.33 L481.44,160.26 L482.35,160.19 L483.27,160.14 L484.19,160.08 L485.11,160.04 L486.03,160.00 L486.95,159.97 L487.87,159.94 L488.78,159.92 L489.70,159.91 L490.62,159.90 L491.54,159.90 L492.46,159.90 L493.38,159.91 L494.30,159.93 L495.22,159.96 L496.14,159.99 L497.05,160.02 L497.97,160.06 L498.89,160.11 L499.81,160.17 L500.73,160.23 L501.65,160.29 L502.56,160.36 L503.48,160.44 L504.40,160.52 L505.31,160.61 L506.23,160.71 L507.15,160.80 L508.06,160.91 L508.98,161.02 L509.89,161.13 L510.81,161.25 L511.72,161.37 L512.64,161.50 L513.55,161.63 L514.47,161.77 L515.38,161.91 L516.29,162.05 L517.21,162.20 L518.12,162.35 L519.03,162.51 L519.94,162.67 L520.86,162.83 L521.77,163.00 L522.68,163.17 L523.59,163.34 L524.50,163.52 L525.41,163.70 L526.31,163.88 L527.22,164.07 L528.13,164.25 L529.04,164.44 L529.94,164.64 L530.85,164.83 L531.76,165.03 L532.66,165.23 L533.57,165.43 L534.47,165.64 L535.37,165.84 L536.28,166.05 L537.18,166.26 L538.08,166.47 L538.98,166.69 L539.88,166.90 L540.78,167.11 L541.68,167.33 L542.58,167.55 L543.48,167.77 L544.37,167.99 L545.27,168.21 L546.16,168.43 L547.06,168.65 L547.95,168.87 L548.85,169.09 L549.74,169.31 L550.63,169.54 L551.52,169.76 L552.41,169.98 L553.30,170.20 L554.19,170.42 L555.08,170.65 L555.97,170.87 L556.85,171.09 L557.74,171.31" fill="none" stroke="#000" stroke-width="2.5" clip-path="url(#cb)"/>
<path d="M351.41,50.71 L352.10,51.27 L352.78,51.84 L353.44,52.43 L354.08,53.03 L354.71,53.65 L355.33,54.27 L355.93,54.92 L356.52,55.57 L357.10,56.23 L357.66,56.91 L358.21,57.60 L358.75,58.30 L359.28,59.00 L359.80,59.72 L360.31,60.45 L360.81,61.18 L361.30,61.92 L361.78,62.67 L362.26,63.43 L362.72,64.19 L363.18,64.96 L363.63,65.74 L364.07,66.52 L364.51,67.31 L364.94,68.10 L365.37,68.89 L365.79,69.69 L366.20,70.49 L366.61,71.29 L367.02,72.09 L367.43,72.90 L367.83,73.70 L368.23,74.51 L368.63,75.31 L369.02,76.12 L369.42,76.92 L369.81,77.72 L370.21,78.53 L370.60,79.32 L370.99,80.12 L371.39,80.91 L371.78,81.70 L372.18,82.49 L372.57,83.28 L372.96,84.07 L373.36,84.86 L373.75,85.64 L374.14,86.42 L374.53,87.21 L374.92,87.99 L375.31,88.77 L375.70,89.55 L376.09,90.33 L376.48,91.12 L376.86,91.90 L377.25,92.68 L377.63,93.47 L378.01,94.25 L378.40,95.04 L378.78,95.82 L379.15,96.61 L379.53,97.40 L379.91,98.19 L380.28,98.99 L380.65,99.78 L381.02,100.58 L381.39,101.38 L381.75,102.19 L382.11,102.99 L382.47,103.80 L382.83,104.61 L383.19,105.43 L383.54,106.25 L383.89,107.07 L384.24,107.90 L384.59,108.73 L384.93,109.57 L385.27,110.41 L385.61,111.25 L385.95,112.09 L386.29,112.94 L386.63,113.79 L386.97,114.63 L387.31,115.48 L387.65,116.33 L387.99,117.19 L388.33,118.04 L388.67,118.88 L389.02,119.73 L389.37,120.58 L389.73,121.43 L390.08,122.27 L390.44,123.11 L390.81,123.95 L391.18,124.78 L391.55,125.61 L391.93,126.44 L392.32,127.26 L392.71,128.08 L393.11,128.89 L393.52,129.69 L393.93,130.49 L394.35,131.29 L394.78,132.07 L395.22,132.85 L395.67,133.62 L396.13,134.39 L396.59,135.14 L397.07,135.89 L397.56,136.63 L398.05,137.35 L398.56,138.07 L399.09,138.78 L399.62,139.48 L400.16,140.16 L400.72,140.83 L401.30,141.50 L401.88,142.15 L402.48,142.78 L403.09,143.41 L403.72,144.02 L404.36,144.61 L405.01,145.20 L405.68,145.76 L406.36,146.31 L407.05,146.85 L407.75,147.37 L408.46,147.87 L409.18,148.36 L409.91,148.83 L410.66,149.28 L411.41,149.71 L412.17,150.12 L412.94,150.51 L413.72,150.89 L414.51,151.24 L415.31,151.57 L416.11,151.88 L416.92,152.17 L417.74,152.44 L418.56,152.68 L419.39,152.90 L420.23,153.10 L421.07,153.27 L421.92,153.42 L422.77,153.55 L423.63,153.64 L424.49,153.72 L425.35,153.76 L426.22,153.78 L427.09,153.78 L427.97,153.75 L428.84,153.70 L429.72,153.62 L430.60,153.53 L431.49,153.41 L432.37,153.28 L433.26,153.13 L434.15,152.96 L435.04,152.78 L435.93,152.59 L436.82,152.38 L437.71,152.16 L438.60,151.94 L439.49,151.70 L440.38,151.46 L441.27,151.22 L442.16,150.97 L443.05,150.71 L443.93,150.46 L444.82,150.20 L445.70,149.95 L446.58,149.69 L447.46,149.44 L448.34,149.20 L449.21,148.96 L450.08,148.72 L450.95,148.48 L451.82,148.25 L452.69,148.03 L453.55,147.81 L454.42,147.59 L455.28,147.37 L456.15,147.16 L457.01,146.95 L457.87,146.75 L458.73,146.55 L459.60,146.36 L460.46,146.17 L461.32,145.98 L462.18,145.79 L463.05,145.62 L463.91,145.44 L464.77,145.27 L465.64,145.10 L466.51,144.93 L467.38,144.77 L468.25,144.62 L469.12,144.46 L469.99,144.31 L470.86,144.17 L471.73,144.02 L472.61,143.88 L473.48,143.75 L474.36,143.62 L475.24,143.49 L476.12,143.36 L476.99,143.24 L477.87,143.12 L478.75,143.01 L479.64,142.90 L480.52,142.79 L481.40,142.69 L482.28,142.58 L483.17,142.49 L484.05,142.39 L484.94,142.30 L485.82,142.21 L486.71,142.13 L487.59,142.05 L488.48,141.97 L489.37,141.89 L490.25,141.82 L491.14,141.75 L492.03,141.68 L492.92,141.62 L493.81,141.56 L494.69,141.50 L495.58,141.45 L496.47,141.40 L497.36,141.35 L498.25,141.30 L499.14,141.26 L500.03,141.22 L500.92,141.18 L501.80,141.15 L502.69,141.11 L503.58,141.08 L504.47,141.06 L505.36,141.03 L506.25,141.01 L507.14,140.99 L508.03,140.97 L508.92,140.96 L509.81,140.95 L510.70,140.94 L511.59,140.93 L512.48,140.93 L513.37,140.92 L514.26,140.92 L515.15,140.92 L516.04,140.93 L516.93,140.93 L517.82,140.94 L518.71,140.95 L519.60,140.96 L520.49,140.98 L521.38,140.99 L522.27,141.01 L523.16,141.03 L524.05,141.05 L524.93,141.07 L525.82,141.10 L526.71,141.13 L527.60,141.15 L528.49,141.18 L529.38,141.21 L530.27,141.25 L531.16,141.28 L532.05,141.32 L532.94,141.36 L533.83,141.39 L534.72,141.43 L535.61,141.48 L536.49,141.52 L537.38,141.56 L538.27,141.61 L539.16,141.66 L540.05,141.70 L540.94,141.75 L541.83,141.80 L542.71,141.85 L543.60,141.90 L544.49,141.96 L545.38,142.01 L546.27,142.07 L547.15,142.12 L548.04,142.18 L548.93,142.24 L549.81,142.29 L550.70,142.35 L551.59,142.41 L552.48,142.47 L553.36,142.53 L554.25,142.60 L555.13,142.66 L556.02,142.72 L556.91,142.78 L557.79,142.85" fill="none" stroke="#ff0000" stroke-width="2.7" stroke-dasharray="7.2,3.4" clip-path="url(#cb)"/>
<path d="M351.44,50.68 L352.12,51.25 L352.80,51.84 L353.45,52.44 L354.10,53.05 L354.73,53.68 L355.34,54.31 L355.94,54.96 L356.53,55.63 L357.11,56.30 L357.67,56.98 L358.23,57.68 L358.77,58.38 L359.30,59.10 L359.82,59.82 L360.33,60.55 L360.83,61.29 L361.33,62.04 L361.81,62.79 L362.29,63.55 L362.75,64.32 L363.21,65.09 L363.67,65.87 L364.12,66.66 L364.56,67.45 L364.99,68.24 L365.42,69.03 L365.85,69.83 L366.27,70.63 L366.69,71.44 L367.10,72.24 L367.51,73.05 L367.92,73.86 L368.32,74.66 L368.72,75.47 L369.12,76.28 L369.52,77.09 L369.92,77.89 L370.32,78.69 L370.72,79.49 L371.12,80.29 L371.52,81.09 L371.92,81.89 L372.32,82.68 L372.72,83.47 L373.11,84.26 L373.51,85.05 L373.91,85.84 L374.30,86.63 L374.70,87.42 L375.09,88.21 L375.48,88.99 L375.87,89.78 L376.27,90.57 L376.65,91.36 L377.04,92.15 L377.43,92.94 L377.81,93.73 L378.20,94.52 L378.58,95.31 L378.96,96.11 L379.34,96.90 L379.71,97.70 L380.09,98.50 L380.46,99.30 L380.83,100.11 L381.19,100.91 L381.56,101.72 L381.92,102.54 L382.28,103.35 L382.64,104.17 L382.99,104.99 L383.34,105.82 L383.69,106.65 L384.03,107.48 L384.38,108.32 L384.71,109.16 L385.05,110.00 L385.39,110.85 L385.72,111.70 L386.05,112.56 L386.38,113.41 L386.71,114.27 L387.04,115.13 L387.37,115.99 L387.70,116.85 L388.03,117.71 L388.36,118.57 L388.70,119.43 L389.04,120.29 L389.38,121.14 L389.72,122.00 L390.06,122.85 L390.41,123.70 L390.77,124.55 L391.12,125.40 L391.49,126.24 L391.86,127.08 L392.23,127.91 L392.61,128.74 L392.99,129.57 L393.39,130.39 L393.79,131.20 L394.19,132.01 L394.61,132.81 L395.03,133.60 L395.47,134.39 L395.91,135.17 L396.36,135.94 L396.82,136.71 L397.29,137.46 L397.77,138.21 L398.27,138.95 L398.77,139.68 L399.29,140.39 L399.82,141.10 L400.36,141.80 L400.91,142.48 L401.48,143.16 L402.06,143.82 L402.66,144.47 L403.27,145.10 L403.89,145.73 L404.52,146.34 L405.17,146.93 L405.83,147.52 L406.51,148.08 L407.19,148.63 L407.89,149.17 L408.60,149.69 L409.31,150.19 L410.04,150.67 L410.78,151.14 L411.53,151.59 L412.29,152.02 L413.05,152.43 L413.83,152.82 L414.62,153.19 L415.41,153.54 L416.21,153.87 L417.02,154.18 L417.83,154.47 L418.65,154.73 L419.48,154.97 L420.32,155.19 L421.16,155.38 L422.00,155.55 L422.85,155.70 L423.71,155.82 L424.57,155.91 L425.43,155.98 L426.30,156.02 L427.18,156.04 L428.05,156.03 L428.93,156.00 L429.81,155.95 L430.69,155.87 L431.58,155.78 L432.47,155.67 L433.36,155.54 L434.25,155.39 L435.14,155.23 L436.04,155.06 L436.93,154.87 L437.83,154.68 L438.73,154.47 L439.62,154.25 L440.52,154.03 L441.42,153.80 L442.31,153.56 L443.21,153.32 L444.10,153.08 L444.99,152.83 L445.88,152.59 L446.77,152.34 L447.66,152.10 L448.54,151.86 L449.42,151.62 L450.31,151.39 L451.18,151.15 L452.06,150.92 L452.94,150.70 L453.81,150.47 L454.69,150.25 L455.56,150.03 L456.44,149.82 L457.31,149.60 L458.18,149.39 L459.05,149.19 L459.92,148.99 L460.79,148.79 L461.66,148.60 L462.54,148.40 L463.41,148.22 L464.28,148.04 L465.16,147.86 L466.03,147.68 L466.91,147.51 L467.78,147.35 L468.66,147.19 L469.54,147.03 L470.42,146.88 L471.30,146.73 L472.18,146.58 L473.06,146.44 L473.94,146.30 L474.82,146.17 L475.70,146.04 L476.59,145.92 L477.47,145.79 L478.36,145.68 L479.24,145.56 L480.13,145.45 L481.01,145.35 L481.90,145.25 L482.79,145.15 L483.68,145.05 L484.57,144.96 L485.46,144.87 L486.35,144.79 L487.24,144.71 L488.13,144.63 L489.02,144.56 L489.91,144.49 L490.80,144.43 L491.69,144.36 L492.58,144.30 L493.48,144.25 L494.37,144.20 L495.26,144.15 L496.15,144.10 L497.05,144.06 L497.94,144.02 L498.83,143.99 L499.73,143.95 L500.62,143.92 L501.52,143.90 L502.41,143.88 L503.31,143.86 L504.20,143.84 L505.10,143.83 L505.99,143.82 L506.89,143.81 L507.78,143.80 L508.68,143.80 L509.57,143.80 L510.47,143.81 L511.36,143.81 L512.26,143.82 L513.15,143.83 L514.05,143.85 L514.94,143.86 L515.84,143.88 L516.73,143.91 L517.63,143.93 L518.53,143.96 L519.42,143.99 L520.32,144.02 L521.21,144.05 L522.11,144.09 L523.00,144.13 L523.90,144.17 L524.79,144.21 L525.69,144.26 L526.58,144.31 L527.48,144.36 L528.37,144.41 L529.27,144.46 L530.16,144.52 L531.06,144.57 L531.95,144.63 L532.85,144.70 L533.74,144.76 L534.63,144.82 L535.53,144.89 L536.42,144.96 L537.31,145.03 L538.21,145.10 L539.10,145.17 L539.99,145.25 L540.89,145.33 L541.78,145.40 L542.67,145.48 L543.56,145.57 L544.45,145.65 L545.34,145.73 L546.23,145.82 L547.13,145.90 L548.02,145.99 L548.91,146.08 L549.80,146.17 L550.68,146.26 L551.57,146.35 L552.46,146.45 L553.35,146.54 L554.24,146.64 L555.13,146.73 L556.01,146.83 L556.90,146.93 L557.79,147.03" fill="none" stroke="#0000ff" stroke-width="2.7" stroke-dasharray="7.2,3.4,3.0,3.4" clip-path="url(#cb)"/>
<rect x="53.5" y="289.05" width="207.00" height="206.55" fill="none" stroke="#1a1a1a" stroke-width="1.05"/>
<line x1="53.5" y1="461.18" x2="56.8" y2="461.18" stroke="#1a1a1a" stroke-width="1.0"/>
<line x1="260.5" y1="461.18" x2="257.2" y2="461.18" stroke="#1a1a1a" stroke-width="1.0"/>
<line x1="53.5" y1="426.75" x2="56.8" y2="426.75" stroke="#1a1a1a" stroke-width="1.0"/>
<line x1="260.5" y1="426.75" x2="257.2" y2="426.75" stroke="#1a1a1a" stroke-width="1.0"/>
<line x1="53.5" y1="392.32" x2="56.8" y2="392.32" stroke="#1a1a1a" stroke-width="1.0"/>
<line x1="260.5" y1="392.32" x2="257.2" y2="392.32" stroke="#1a1a1a" stroke-width="1.0"/>
<line x1="53.5" y1="357.90" x2="56.8" y2="357.90" stroke="#1a1a1a" stroke-width="1.0"/>
<line x1="260.5" y1="357.90" x2="257.2" y2="357.90" stroke="#1a1a1a" stroke-width="1.0"/>
<line x1="53.5" y1="323.48" x2="56.8" y2="323.48" stroke="#1a1a1a" stroke-width="1.0"/>
<line x1="260.5" y1="323.48" x2="257.2" y2="323.48" stroke="#1a1a1a" stroke-width="1.0"/>
<line x1="53.5" y1="488.72" x2="55.5" y2="488.72" stroke="#1a1a1a" stroke-width="1.0"/>
<line x1="260.5" y1="488.72" x2="258.5" y2="488.72" stroke="#1a1a1a" stroke-width="1.0"/>
<line x1="53.5" y1="481.83" x2="55.5" y2="481.83" stroke="#1a1a1a" stroke-width="1.0"/>
<line x1="260.5" y1="481.83" x2="258.5" y2="481.83" stroke="#1a1a1a" stroke-width="1.0"/>
<line x1="53.5" y1="474.95" x2="55.5" y2="474.95" stroke="#1a1a1a" stroke-width="1.0"/>
<line x1="260.5" y1="474.95" x2="258.5" y2="474.95" stroke="#1a1a1a" stroke-width="1.0"/>
<line x1="53.5" y1="468.06" x2="55.5" y2="468.06" stroke="#1a1a1a" stroke-width="1.0"/>
<line x1="260.5" y1="468.06" x2="258.5" y2="468.06" stroke="#1a1a1a" stroke-width="1.0"/>
<line x1="53.5" y1="454.29" x2="55.5" y2="454.29" stroke="#1a1a1a" stroke-width="1.0"/>
<line x1="260.5" y1="454.29" x2="258.5" y2="454.29" stroke="#1a1a1a" stroke-width="1.0"/>
<line x1="53.5" y1="447.41" x2="55.5" y2="447.41" stroke="#1a1a1a" stroke-width="1.0"/>
<line x1="260.5" y1="447.41" x2="258.5" y2="447.41" stroke="#1a1a1a" stroke-width="1.0"/>
<line x1="53.5" y1="440.52" x2="55.5" y2="440.52" stroke="#1a1a1a" stroke-width="1.0"/>
<line x1="260.5" y1="440.52" x2="258.5" y2="440.52" stroke="#1a1a1a" stroke-width="1.0"/>
<line x1="53.5" y1="433.63" x2="55.5" y2="433.63" stroke="#1a1a1a" stroke-width="1.0"/>
<line x1="260.5" y1="433.63" x2="258.5" y2="433.63" stroke="#1a1a1a" stroke-width="1.0"/>
<line x1="53.5" y1="419.87" x2="55.5" y2="419.87" stroke="#1a1a1a" stroke-width="1.0"/>
<line x1="260.5" y1="419.87" x2="258.5" y2="419.87" stroke="#1a1a1a" stroke-width="1.0"/>
<line x1="53.5" y1="412.98" x2="55.5" y2="412.98" stroke="#1a1a1a" stroke-width="1.0"/>
<line x1="260.5" y1="412.98" x2="258.5" y2="412.98" stroke="#1a1a1a" stroke-width="1.0"/>
<line x1="53.5" y1="406.10" x2="55.5" y2="406.10" stroke="#1a1a1a" stroke-width="1.0"/>
<line x1="260.5" y1="406.10" x2="258.5" y2="406.10" stroke="#1a1a1a" stroke-width="1.0"/>
<line x1="53.5" y1="399.21" x2="55.5" y2="399.21" stroke="#1a1a1a" stroke-width="1.0"/>
<line x1="260.5" y1="399.21" x2="258.5" y2="399.21" stroke="#1a1a1a" stroke-width="1.0"/>
<line x1="53.5" y1="385.44" x2="55.5" y2="385.44" stroke="#1a1a1a" stroke-width="1.0"/>
<line x1="260.5" y1="385.44" x2="258.5" y2="385.44" stroke="#1a1a1a" stroke-width="1.0"/>
<line x1="53.5" y1="378.56" x2="55.5" y2="378.56" stroke="#1a1a1a" stroke-width="1.0"/>
<line x1="260.5" y1="378.56" x2="258.5" y2="378.56" stroke="#1a1a1a" stroke-width="1.0"/>
<line x1="53.5" y1="371.67" x2="55.5" y2="371.67" stroke="#1a1a1a" stroke-width="1.0"/>
<line x1="260.5" y1="371.67" x2="258.5" y2="371.67" stroke="#1a1a1a" stroke-width="1.0"/>
<line x1="53.5" y1="364.79" x2="55.5" y2="364.79" stroke="#1a1a1a" stroke-width="1.0"/>
<line x1="260.5" y1="364.79" x2="258.5" y2="364.79" stroke="#1a1a1a" stroke-width="1.0"/>
<line x1="53.5" y1="351.01" x2="55.5" y2="351.01" stroke="#1a1a1a" stroke-width="1.0"/>
<line x1="260.5" y1="351.01" x2="258.5" y2="351.01" stroke="#1a1a1a" stroke-width="1.0"/>
<line x1="53.5" y1="344.13" x2="55.5" y2="344.13" stroke="#1a1a1a" stroke-width="1.0"/>
<line x1="260.5" y1="344.13" x2="258.5" y2="344.13" stroke="#1a1a1a" stroke-width="1.0"/>
<line x1="53.5" y1="337.25" x2="55.5" y2="337.25" stroke="#1a1a1a" stroke-width="1.0"/>
<line x1="260.5" y1="337.25" x2="258.5" y2="337.25" stroke="#1a1a1a" stroke-width="1.0"/>
<line x1="53.5" y1="330.36" x2="55.5" y2="330.36" stroke="#1a1a1a" stroke-width="1.0"/>
<line x1="260.5" y1="330.36" x2="258.5" y2="330.36" stroke="#1a1a1a" stroke-width="1.0"/>
<line x1="53.5" y1="316.59" x2="55.5" y2="316.59" stroke="#1a1a1a" stroke-width="1.0"/>
<line x1="260.5" y1="316.59" x2="258.5" y2="316.59" stroke="#1a1a1a" stroke-width="1.0"/>
<line x1="53.5" y1="309.71" x2="55.5" y2="309.71" stroke="#1a1a1a" stroke-width="1.0"/>
<line x1="260.5" y1="309.71" x2="258.5" y2="309.71" stroke="#1a1a1a" stroke-width="1.0"/>
<line x1="53.5" y1="302.82" x2="55.5" y2="302.82" stroke="#1a1a1a" stroke-width="1.0"/>
<line x1="260.5" y1="302.82" x2="258.5" y2="302.82" stroke="#1a1a1a" stroke-width="1.0"/>
<line x1="53.5" y1="295.94" x2="55.5" y2="295.94" stroke="#1a1a1a" stroke-width="1.0"/>
<line x1="260.5" y1="295.94" x2="258.5" y2="295.94" stroke="#1a1a1a" stroke-width="1.0"/>
<line x1="97.08" y1="495.6" x2="97.08" y2="492.3" stroke="#1a1a1a" stroke-width="1.0"/>
<line x1="97.08" y1="289.05" x2="97.08" y2="292.35" stroke="#1a1a1a" stroke-width="1.0"/>
<line x1="151.55" y1="495.6" x2="151.55" y2="492.3" stroke="#1a1a1a" stroke-width="1.0"/>
<line x1="151.55" y1="289.05" x2="151.55" y2="292.35" stroke="#1a1a1a" stroke-width="1.0"/>
<line x1="206.03" y1="495.6" x2="206.03" y2="492.3" stroke="#1a1a1a" stroke-width="1.0"/>
<line x1="206.03" y1="289.05" x2="206.03" y2="292.35" stroke="#1a1a1a" stroke-width="1.0"/>
<line x1="64.39" y1="495.6" x2="64.39" y2="493.6" stroke="#1a1a1a" stroke-width="1.0"/>
<line x1="64.39" y1="289.05" x2="64.39" y2="291.05" stroke="#1a1a1a" stroke-width="1.0"/>
<line x1="75.29" y1="495.6" x2="75.29" y2="493.6" stroke="#1a1a1a" stroke-width="1.0"/>
<line x1="75.29" y1="289.05" x2="75.29" y2="291.05" stroke="#1a1a1a" stroke-width="1.0"/>
<line x1="86.18" y1="495.6" x2="86.18" y2="493.6" stroke="#1a1a1a" stroke-width="1.0"/>
<line x1="86.18" y1="289.05" x2="86.18" y2="291.05" stroke="#1a1a1a" stroke-width="1.0"/>
<line x1="107.97" y1="495.6" x2="107.97" y2="493.6" stroke="#1a1a1a" stroke-width="1.0"/>
<line x1="107.97" y1="289.05" x2="107.97" y2="291.05" stroke="#1a1a1a" stroke-width="1.0"/>
<line x1="118.87" y1="495.6" x2="118.87" y2="493.6" stroke="#1a1a1a" stroke-width="1.0"/>
<line x1="118.87" y1="289.05" x2="118.87" y2="291.05" stroke="#1a1a1a" stroke-width="1.0"/>
<line x1="129.76" y1="495.6" x2="129.76" y2="493.6" stroke="#1a1a1a" stroke-width="1.0"/>
<line x1="129.76" y1="289.05" x2="129.76" y2="291.05" stroke="#1a1a1a" stroke-width="1.0"/>
<line x1="140.66" y1="495.6" x2="140.66" y2="493.6" stroke="#1a1a1a" stroke-width="1.0"/>
<line x1="140.66" y1="289.05" x2="140.66" y2="291.05" stroke="#1a1a1a" stroke-width="1.0"/>
<line x1="162.45" y1="495.6" x2="162.45" y2="493.6" stroke="#1a1a1a" stroke-width="1.0"/>
<line x1="162.45" y1="289.05" x2="162.45" y2="291.05" stroke="#1a1a1a" stroke-width="1.0"/>
<line x1="173.34" y1="495.6" x2="173.34" y2="493.6" stroke="#1a1a1a" stroke-width="1.0"/>
<line x1="173.34" y1="289.05" x2="173.34" y2="291.05" stroke="#1a1a1a" stroke-width="1.0"/>
<line x1="184.24" y1="495.6" x2="184.24" y2="493.6" stroke="#1a1a1a" stroke-width="1.0"/>
<line x1="184.24" y1="289.05" x2="184.24" y2="291.05" stroke="#1a1a1a" stroke-width="1.0"/>
<line x1="195.13" y1="495.6" x2="195.13" y2="493.6" stroke="#1a1a1a" stroke-width="1.0"/>
<line x1="195.13" y1="289.05" x2="195.13" y2="291.05" stroke="#1a1a1a" stroke-width="1.0"/>
<line x1="216.92" y1="495.6" x2="216.92" y2="493.6" stroke="#1a1a1a" stroke-width="1.0"/>
<line x1="216.92" y1="289.05" x2="216.92" y2="291.05" stroke="#1a1a1a" stroke-width="1.0"/>
<line x1="227.82" y1="495.6" x2="227.82" y2="493.6" stroke="#1a1a1a" stroke-width="1.0"/>
<line x1="227.82" y1="289.05" x2="227.82" y2="291.05" stroke="#1a1a1a" stroke-width="1.0"/>
<line x1="238.71" y1="495.6" x2="238.71" y2="493.6" stroke="#1a1a1a" stroke-width="1.0"/>
<line x1="238.71" y1="289.05" x2="238.71" y2="291.05" stroke="#1a1a1a" stroke-width="1.0"/>
<line x1="249.61" y1="495.6" x2="249.61" y2="493.6" stroke="#1a1a1a" stroke-width="1.0"/>
<line x1="249.61" y1="289.05" x2="249.61" y2="291.05" stroke="#1a1a1a" stroke-width="1.0"/>
<text x="96.48" y="513.60" font-size="13" text-anchor="middle" font-family="'Liberation Sans', sans-serif" >5</text>
<text x="150.15" y="513.60" font-size="13" text-anchor="middle" font-family="'Liberation Sans', sans-serif" >10</text>
<text x="204.63" y="513.60" font-size="13" text-anchor="middle" font-family="'Liberation Sans', sans-serif" >15</text>
<text x="259.10" y="513.60" font-size="13" text-anchor="middle" font-family="'Liberation Sans', sans-serif" >20</text>
<text x="47.40" y="500.30" font-size="13" text-anchor="end" font-family="'Liberation Sans', sans-serif" >0.0</text>
<text x="47.40" y="465.88" font-size="13" text-anchor="end" font-family="'Liberation Sans', sans-serif" >0.5</text>
<text x="47.40" y="431.45" font-size="13" text-anchor="end" font-family="'Liberation Sans', sans-serif" >1.0</text>
<text x="47.40" y="397.02" font-size="13" text-anchor="end" font-family="'Liberation Sans', sans-serif" >1.5</text>
<text x="47.40" y="362.60" font-size="13" text-anchor="end" font-family="'Liberation Sans', sans-serif" >2.0</text>
<text x="47.40" y="328.18" font-size="13" text-anchor="end" font-family="'Liberation Sans', sans-serif" >2.5</text>
<text x="47.40" y="293.75" font-size="13" text-anchor="end" font-family="'Liberation Sans', sans-serif" >3.0</text>
<path d="M53.50,426.27 L54.37,426.38 L55.24,426.49 L56.10,426.58 L56.97,426.67 L57.84,426.75 L58.71,426.82 L59.57,426.88 L60.44,426.93 L61.30,426.98 L62.16,427.01 L63.03,427.04 L63.89,427.05 L64.74,427.06 L65.60,427.05 L66.45,427.04 L67.31,427.01 L68.15,426.98 L69.00,426.93 L69.84,426.88 L70.68,426.81 L71.52,426.74 L72.35,426.65 L73.18,426.55 L74.01,426.44 L74.83,426.32 L75.65,426.19 L76.46,426.04 L77.26,425.89 L78.07,425.72 L78.86,425.54 L79.66,425.35 L80.44,425.14 L81.22,424.93 L82.00,424.70 L82.77,424.46 L83.53,424.20 L84.28,423.94 L85.03,423.66 L85.77,423.36 L86.51,423.06 L87.24,422.74 L87.96,422.40 L88.67,422.06 L89.37,421.70 L90.07,421.32 L90.76,420.93 L91.44,420.53 L92.11,420.11 L92.77,419.68 L93.43,419.24 L94.08,418.78 L94.72,418.32 L95.35,417.84 L95.98,417.35 L96.60,416.85 L97.22,416.33 L97.82,415.81 L98.43,415.28 L99.02,414.74 L99.61,414.19 L100.20,413.63 L100.78,413.06 L101.36,412.48 L101.93,411.90 L102.49,411.31 L103.06,410.71 L103.61,410.10 L104.17,409.49 L104.72,408.87 L105.27,408.25 L105.81,407.62 L106.35,406.99 L106.89,406.35 L107.42,405.71 L107.96,405.07 L108.49,404.42 L109.02,403.77 L109.55,403.11 L110.07,402.46 L110.60,401.80 L111.13,401.15 L111.65,400.49 L112.18,399.84 L112.70,399.18 L113.23,398.53 L113.76,397.88 L114.28,397.23 L114.81,396.58 L115.35,395.94 L115.88,395.30 L116.41,394.66 L116.95,394.03 L117.50,393.41 L118.04,392.79 L118.59,392.17 L119.14,391.57 L119.70,390.97 L120.26,390.38 L120.82,389.79 L121.39,389.22 L121.97,388.65 L122.55,388.10 L123.14,387.55 L123.73,387.01 L124.33,386.49 L124.94,385.98 L125.55,385.48 L126.17,384.99 L126.80,384.52 L127.43,384.05 L128.08,383.61 L128.73,383.18 L129.39,382.76 L130.06,382.36 L130.74,381.97 L131.43,381.60 L132.13,381.24 L132.83,380.90 L133.54,380.57 L134.26,380.25 L134.99,379.95 L135.72,379.66 L136.46,379.38 L137.21,379.12 L137.96,378.86 L138.72,378.62 L139.49,378.39 L140.26,378.16 L141.03,377.95 L141.81,377.75 L142.59,377.55 L143.38,377.37 L144.17,377.19 L144.97,377.02 L145.77,376.86 L146.57,376.71 L147.38,376.56 L148.18,376.42 L148.99,376.28 L149.80,376.15 L150.62,376.02 L151.43,375.90 L152.25,375.79 L153.07,375.68 L153.89,375.57 L154.71,375.47 L155.54,375.37 L156.36,375.28 L157.19,375.19 L158.02,375.10 L158.85,375.01 L159.68,374.93 L160.51,374.85 L161.34,374.77 L162.17,374.69 L163.00,374.61 L163.84,374.54 L164.67,374.46 L165.51,374.39 L166.34,374.31 L167.18,374.24 L168.01,374.16 L168.84,374.09 L169.68,374.01 L170.51,373.93 L171.35,373.85 L172.18,373.77 L173.01,373.69 L173.84,373.60 L174.68,373.52 L175.51,373.43 L176.34,373.33 L177.16,373.24 L177.99,373.13 L178.82,373.03 L179.64,372.92 L180.47,372.81 L181.29,372.69 L182.11,372.57 L182.93,372.44 L183.74,372.31 L184.56,372.17 L185.37,372.02 L186.18,371.87 L186.99,371.71 L187.79,371.55 L188.60,371.37 L189.40,371.19 L190.20,371.00 L190.99,370.81 L191.79,370.60 L192.58,370.39 L193.36,370.17 L194.15,369.94 L194.93,369.70 L195.71,369.45 L196.48,369.19 L197.25,368.92 L198.02,368.64 L198.79,368.36 L199.55,368.06 L200.31,367.76 L201.06,367.45 L201.81,367.12 L202.56,366.80 L203.31,366.46 L204.05,366.12 L204.80,365.77 L205.53,365.41 L206.27,365.05 L207.00,364.67 L207.73,364.30 L208.46,363.91 L209.18,363.52 L209.90,363.13 L210.62,362.73 L211.34,362.32 L212.05,361.91 L212.76,361.49 L213.47,361.07 L214.18,360.65 L214.88,360.22 L215.58,359.79 L216.28,359.35 L216.98,358.91 L217.67,358.46 L218.36,358.01 L219.05,357.56 L219.74,357.11 L220.43,356.65 L221.11,356.18 L221.79,355.72 L222.47,355.25 L223.14,354.77 L223.81,354.29 L224.48,353.81 L225.15,353.33 L225.81,352.84 L226.47,352.35 L227.13,351.85 L227.79,351.35 L228.44,350.85 L229.09,350.34 L229.74,349.84 L230.38,349.32 L231.02,348.81 L231.66,348.29 L232.30,347.76 L232.93,347.24 L233.56,346.71 L234.19,346.17 L234.81,345.64 L235.43,345.09 L236.05,344.55 L236.66,344.00 L237.28,343.45 L237.88,342.90 L238.49,342.34 L239.09,341.78 L239.69,341.22 L240.28,340.65 L240.88,340.08 L241.47,339.51 L242.05,338.93 L242.63,338.35 L243.21,337.77 L243.79,337.18 L244.36,336.59 L244.93,336.00 L245.49,335.40 L246.05,334.80 L246.61,334.20 L247.16,333.59 L247.71,332.98 L248.26,332.37 L248.80,331.76 L249.34,331.14 L249.88,330.52 L250.41,329.89 L250.94,329.27 L251.46,328.64 L251.98,328.00 L252.50,327.36 L253.01,326.73 L253.52,326.08 L254.02,325.44 L254.53,324.79 L255.02,324.14 L255.52,323.48 L256.00,322.82 L256.49,322.16 L256.97,321.50 L257.45,320.83 L257.92,320.16 L258.39,319.49 L258.85,318.82 L259.31,318.14 L259.77,317.46 L260.22,316.77" fill="none" stroke="#ff0000" stroke-width="2.7" stroke-dasharray="7.2,3.4" clip-path="url(#cc)"/>
<path d="M53.62,426.64 L54.41,426.71 L55.20,426.78 L56.00,426.85 L56.80,426.92 L57.60,426.98 L58.40,427.04 L59.20,427.10 L60.01,427.15 L60.82,427.20 L61.63,427.24 L62.44,427.28 L63.25,427.31 L64.06,427.34 L64.87,427.36 L65.68,427.38 L66.49,427.39 L67.30,427.39 L68.11,427.39 L68.91,427.37 L69.72,427.36 L70.52,427.33 L71.33,427.29 L72.13,427.25 L72.93,427.20 L73.72,427.13 L74.52,427.06 L75.31,426.98 L76.09,426.89 L76.88,426.79 L77.66,426.68 L78.43,426.56 L79.20,426.43 L79.97,426.28 L80.73,426.13 L81.49,425.96 L82.25,425.78 L82.99,425.59 L83.74,425.38 L84.47,425.16 L85.20,424.93 L85.93,424.68 L86.64,424.42 L87.36,424.15 L88.06,423.87 L88.76,423.57 L89.46,423.26 L90.14,422.94 L90.83,422.60 L91.50,422.26 L92.18,421.90 L92.84,421.53 L93.50,421.15 L94.16,420.76 L94.81,420.36 L95.46,419.95 L96.10,419.53 L96.74,419.10 L97.37,418.66 L98.00,418.21 L98.62,417.75 L99.24,417.28 L99.85,416.81 L100.46,416.32 L101.07,415.83 L101.67,415.33 L102.27,414.82 L102.86,414.31 L103.46,413.79 L104.04,413.26 L104.63,412.73 L105.21,412.19 L105.78,411.64 L106.36,411.09 L106.93,410.53 L107.50,409.97 L108.06,409.40 L108.62,408.83 L109.18,408.25 L109.74,407.68 L110.30,407.10 L110.86,406.51 L111.41,405.93 L111.96,405.35 L112.52,404.76 L113.07,404.18 L113.62,403.60 L114.18,403.02 L114.73,402.44 L115.29,401.87 L115.85,401.29 L116.40,400.73 L116.96,400.16 L117.53,399.61 L118.09,399.05 L118.66,398.51 L119.23,397.97 L119.81,397.44 L120.38,396.91 L120.96,396.40 L121.55,395.89 L122.14,395.40 L122.74,394.91 L123.34,394.44 L123.94,393.97 L124.55,393.52 L125.17,393.08 L125.79,392.66 L126.42,392.24 L127.06,391.85 L127.70,391.46 L128.35,391.10 L129.01,390.75 L129.67,390.41 L130.35,390.09 L131.03,389.79 L131.72,389.51 L132.42,389.23 L133.12,388.98 L133.83,388.73 L134.54,388.51 L135.27,388.29 L135.99,388.08 L136.73,387.89 L137.47,387.71 L138.21,387.53 L138.96,387.37 L139.71,387.21 L140.46,387.07 L141.22,386.93 L141.99,386.79 L142.75,386.67 L143.52,386.54 L144.29,386.43 L145.06,386.31 L145.84,386.21 L146.62,386.10 L147.39,386.00 L148.17,385.90 L148.95,385.80 L149.73,385.70 L150.51,385.60 L151.29,385.50 L152.08,385.40 L152.86,385.31 L153.64,385.21 L154.42,385.12 L155.21,385.02 L155.99,384.93 L156.78,384.83 L157.56,384.74 L158.34,384.64 L159.13,384.55 L159.91,384.45 L160.70,384.36 L161.49,384.26 L162.27,384.17 L163.06,384.07 L163.84,383.97 L164.63,383.88 L165.41,383.78 L166.20,383.68 L166.98,383.58 L167.77,383.48 L168.55,383.37 L169.34,383.27 L170.12,383.17 L170.90,383.06 L171.69,382.95 L172.47,382.84 L173.25,382.73 L174.04,382.62 L174.82,382.51 L175.60,382.39 L176.38,382.27 L177.16,382.15 L177.94,382.03 L178.72,381.90 L179.50,381.78 L180.27,381.65 L181.05,381.52 L181.83,381.38 L182.60,381.25 L183.38,381.11 L184.15,380.96 L184.92,380.82 L185.69,380.67 L186.46,380.52 L187.23,380.36 L188.00,380.20 L188.77,380.04 L189.53,379.88 L190.30,379.71 L191.06,379.54 L191.82,379.36 L192.58,379.18 L193.34,379.00 L194.10,378.81 L194.86,378.62 L195.61,378.43 L196.37,378.23 L197.12,378.02 L197.87,377.82 L198.62,377.60 L199.37,377.39 L200.12,377.16 L200.86,376.94 L201.60,376.71 L202.34,376.47 L203.08,376.23 L203.82,375.98 L204.56,375.73 L205.29,375.47 L206.02,375.21 L206.75,374.94 L207.48,374.67 L208.21,374.39 L208.93,374.11 L209.65,373.82 L210.37,373.52 L211.09,373.22 L211.81,372.91 L212.52,372.60 L213.23,372.28 L213.94,371.95 L214.64,371.62 L215.35,371.28 L216.05,370.94 L216.75,370.59 L217.45,370.23 L218.14,369.86 L218.83,369.49 L219.52,369.11 L220.21,368.73 L220.89,368.34 L221.58,367.95 L222.26,367.55 L222.93,367.14 L223.61,366.73 L224.28,366.31 L224.95,365.89 L225.62,365.46 L226.28,365.03 L226.95,364.59 L227.61,364.15 L228.27,363.71 L228.92,363.25 L229.57,362.80 L230.23,362.34 L230.87,361.88 L231.52,361.41 L232.16,360.94 L232.81,360.46 L233.45,359.99 L234.08,359.50 L234.72,359.02 L235.35,358.53 L235.98,358.04 L236.61,357.54 L237.23,357.05 L237.85,356.55 L238.47,356.04 L239.09,355.54 L239.71,355.03 L240.32,354.52 L240.93,354.01 L241.54,353.49 L242.15,352.97 L242.75,352.46 L243.35,351.94 L243.95,351.41 L244.55,350.89 L245.14,350.37 L245.74,349.84 L246.33,349.31 L246.91,348.79 L247.50,348.26 L248.08,347.73 L248.66,347.20 L249.24,346.67 L249.82,346.13 L250.39,345.60 L250.96,345.07 L251.53,344.54 L252.10,344.01 L252.67,343.48 L253.23,342.94 L253.79,342.41 L254.35,341.88 L254.90,341.35 L255.45,340.82 L256.01,340.30 L256.55,339.77 L257.10,339.24 L257.64,338.72 L258.19,338.20 L258.73,337.67 L259.26,337.15 L259.80,336.63 L260.33,336.12" fill="none" stroke="#0000ff" stroke-width="2.7" stroke-dasharray="7.2,3.4,3.0,3.4" clip-path="url(#cc)"/>
<rect x="351.5" y="289.05" width="206.00" height="206.55" fill="none" stroke="#1a1a1a" stroke-width="1.05"/>
<line x1="403.00" y1="495.6" x2="403.00" y2="492.6" stroke="#1a1a1a" stroke-width="1.0"/>
<line x1="454.50" y1="495.6" x2="454.50" y2="492.6" stroke="#1a1a1a" stroke-width="1.0"/>
<line x1="506.00" y1="495.6" x2="506.00" y2="492.6" stroke="#1a1a1a" stroke-width="1.0"/>
<text x="350.00" y="513.80" font-size="13" text-anchor="middle" font-family="'Liberation Sans', sans-serif" >380</text>
<text x="401.50" y="513.80" font-size="13" text-anchor="middle" font-family="'Liberation Sans', sans-serif" >390</text>
<text x="453.00" y="513.80" font-size="13" text-anchor="middle" font-family="'Liberation Sans', sans-serif" >400</text>
<text x="504.50" y="513.80" font-size="13" text-anchor="middle" font-family="'Liberation Sans', sans-serif" >410</text>
<text x="556.00" y="513.80" font-size="13" text-anchor="middle" font-family="'Liberation Sans', sans-serif" >420</text>
<line x1="351.5" y1="466.1" x2="557.5" y2="466.1" stroke="#555" stroke-width="1"/>
<path d="M351.50,464.19 L351.76,464.18 L352.02,464.18 L352.27,464.17 L352.53,464.16 L352.79,464.15 L353.05,464.14 L353.30,464.13 L353.56,464.13 L353.82,464.12 L354.07,464.11 L354.33,464.10 L354.59,464.09 L354.85,464.08 L355.10,464.08 L355.36,464.07 L355.62,464.06 L355.88,464.05 L356.13,464.04 L356.39,464.03 L356.65,464.02 L356.91,464.01 L357.17,464.01 L357.42,464.00 L357.68,463.99 L357.94,463.98 L358.20,463.97 L358.45,463.96 L358.71,463.95 L358.97,463.94 L359.23,463.93 L359.48,463.92 L359.74,463.91 L360.00,463.90 L360.25,463.89 L360.51,463.88 L360.77,463.87 L361.03,463.86 L361.28,463.85 L361.54,463.84 L361.80,463.83 L362.06,463.82 L362.32,463.81 L362.57,463.80 L362.83,463.79 L363.09,463.78 L363.35,463.77 L363.60,463.76 L363.86,463.75 L364.12,463.74 L364.38,463.72 L364.63,463.71 L364.89,463.70 L365.15,463.69 L365.40,463.68 L365.66,463.67 L365.92,463.66 L366.18,463.65 L366.43,463.63 L366.69,463.62 L366.95,463.61 L367.21,463.60 L367.47,463.59 L367.72,463.57 L367.98,463.56 L368.24,463.55 L368.50,463.54 L368.75,463.52 L369.01,463.51 L369.27,463.50 L369.52,463.49 L369.78,463.47 L370.04,463.46 L370.30,463.45 L370.55,463.43 L370.81,463.42 L371.07,463.41 L371.33,463.39 L371.58,463.38 L371.84,463.37 L372.10,463.35 L372.36,463.34 L372.62,463.33 L372.87,463.31 L373.13,463.30 L373.39,463.28 L373.65,463.27 L373.90,463.25 L374.16,463.24 L374.42,463.22 L374.68,463.21 L374.93,463.19 L375.19,463.18 L375.45,463.16 L375.70,463.15 L375.96,463.13 L376.22,463.12 L376.48,463.10 L376.73,463.09 L376.99,463.07 L377.25,463.05 L377.51,463.04 L377.77,463.02 L378.02,463.00 L378.28,462.99 L378.54,462.97 L378.80,462.95 L379.05,462.94 L379.31,462.92 L379.57,462.90 L379.82,462.89 L380.08,462.87 L380.34,462.85 L380.60,462.83 L380.85,462.81 L381.11,462.80 L381.37,462.78 L381.63,462.76 L381.88,462.74 L382.14,462.72 L382.40,462.70 L382.66,462.68 L382.92,462.66 L383.17,462.64 L383.43,462.62 L383.69,462.60 L383.95,462.58 L384.20,462.56 L384.46,462.54 L384.72,462.52 L384.98,462.50 L385.23,462.48 L385.49,462.46 L385.75,462.44 L386.00,462.42 L386.26,462.40 L386.52,462.37 L386.78,462.35 L387.03,462.33 L387.29,462.31 L387.55,462.28 L387.81,462.26 L388.07,462.24 L388.32,462.21 L388.58,462.19 L388.84,462.17 L389.10,462.14 L389.35,462.12 L389.61,462.10 L389.87,462.07 L390.12,462.05 L390.38,462.02 L390.64,462.00 L390.90,461.97 L391.15,461.94 L391.41,461.92 L391.67,461.89 L391.93,461.87 L392.18,461.84 L392.44,461.81 L392.70,461.79 L392.96,461.76 L393.22,461.73 L393.47,461.70 L393.73,461.67 L393.99,461.65 L394.25,461.62 L394.50,461.59 L394.76,461.56 L395.02,461.53 L395.27,461.50 L395.53,461.47 L395.79,461.44 L396.05,461.41 L396.30,461.38 L396.56,461.35 L396.82,461.31 L397.08,461.28 L397.33,461.25 L397.59,461.22 L397.85,461.18 L398.11,461.15 L398.37,461.12 L398.62,461.08 L398.88,461.05 L399.14,461.02 L399.40,460.98 L399.65,460.95 L399.91,460.91 L400.17,460.87 L400.43,460.84 L400.68,460.80 L400.94,460.76 L401.20,460.73 L401.45,460.69 L401.71,460.65 L401.97,460.61 L402.23,460.57 L402.48,460.53 L402.74,460.49 L403.00,460.45 L403.26,460.41 L403.52,460.37 L403.77,460.33 L404.03,460.29 L404.29,460.25 L404.55,460.20 L404.80,460.16 L405.06,460.12 L405.32,460.07 L405.57,460.03 L405.83,459.98 L406.09,459.94 L406.35,459.89 L406.60,459.85 L406.86,459.80 L407.12,459.75 L407.38,459.70 L407.63,459.66 L407.89,459.61 L408.15,459.56 L408.41,459.51 L408.67,459.46 L408.92,459.41 L409.18,459.35 L409.44,459.30 L409.70,459.25 L409.95,459.20 L410.21,459.14 L410.47,459.09 L410.73,459.03 L410.98,458.98 L411.24,458.92 L411.50,458.86 L411.75,458.80 L412.01,458.75 L412.27,458.69 L412.53,458.63 L412.78,458.57 L413.04,458.51 L413.30,458.44 L413.56,458.38 L413.82,458.32 L414.07,458.25 L414.33,458.19 L414.59,458.12 L414.85,458.06 L415.10,457.99 L415.36,457.92 L415.62,457.85 L415.88,457.78 L416.13,457.71 L416.39,457.64 L416.65,457.57 L416.90,457.49 L417.16,457.42 L417.42,457.34 L417.68,457.27 L417.93,457.19 L418.19,457.11 L418.45,457.03 L418.71,456.95 L418.97,456.87 L419.22,456.78 L419.48,456.70 L419.74,456.61 L420.00,456.53 L420.25,456.44 L420.51,456.35 L420.77,456.26 L421.02,456.16 L421.28,456.07 L421.54,455.97 L421.80,455.88 L422.05,455.78 L422.31,455.68 L422.57,455.58 L422.83,455.47 L423.08,455.37 L423.34,455.26 L423.60,455.15 L423.86,455.04 L424.12,454.92 L424.37,454.81 L424.63,454.69 L424.89,454.57 L425.15,454.44 L425.40,454.32 L425.66,454.19 L425.92,454.06 L426.18,453.92 L426.43,453.79 L426.69,453.65 L426.95,453.50 L427.20,453.36 L427.46,453.21 L427.72,453.05 L427.98,452.89 L428.23,452.73 L428.49,452.56 L428.75,452.39 L429.01,452.22 L429.27,452.04 L429.52,451.85 L429.78,451.66 L430.04,451.47 L430.30,451.27 L430.55,451.06 L430.81,450.85 L431.07,450.63 L431.32,450.40 L431.58,450.17 L431.84,449.93 L432.10,449.68 L432.35,449.43 L432.61,449.17 L432.87,448.90 L433.13,448.62 L433.38,448.33 L433.64,448.03 L433.90,447.72 L434.16,447.40 L434.42,447.08 L434.67,446.74 L434.93,446.39 L435.19,446.03 L435.45,445.65 L435.70,445.27 L435.96,444.87 L436.22,444.46 L436.48,444.04 L436.73,443.60 L436.99,443.15 L437.25,442.68 L437.50,442.20 L437.76,441.71 L438.02,441.20 L438.28,440.67 L438.53,440.13 L438.79,439.57 L439.05,439.00 L439.31,438.41 L439.57,437.81 L439.82,437.18 L440.08,436.54 L440.34,435.89 L440.60,435.22 L440.85,434.53 L441.11,433.82 L441.37,433.10 L441.62,432.36 L441.88,431.61 L442.14,430.84 L442.40,430.06 L442.65,429.26 L442.91,428.45 L443.17,427.62 L443.43,426.78 L443.68,425.93 L443.94,425.07 L444.20,424.20 L444.46,423.33 L444.72,422.44 L444.97,421.55 L445.23,420.65 L445.49,419.75 L445.75,418.84 L446.00,417.94 L446.26,417.03 L446.52,416.13 L446.77,415.23 L447.03,414.34 L447.29,413.46 L447.55,412.58 L447.80,411.72 L448.06,410.87 L448.32,410.04 L448.58,409.22 L448.83,408.42 L449.09,407.64 L449.35,406.89 L449.61,406.16 L449.87,405.46 L450.12,404.79 L450.38,404.15 L450.64,403.54 L450.90,402.97 L451.15,402.43 L451.41,401.94 L451.67,401.48 L451.93,401.06 L452.18,400.68 L452.44,400.35 L452.70,400.06 L452.95,399.82 L453.21,399.62 L453.47,399.47 L453.73,399.37 L453.98,399.31 L454.24,399.30 L454.50,399.34 L454.76,399.43 L455.02,399.57 L455.27,399.75 L455.53,399.98 L455.79,400.25 L456.05,400.57 L456.30,400.94 L456.56,401.34 L456.82,401.79 L457.07,402.28 L457.33,402.81 L457.59,403.38 L457.85,403.98 L458.10,404.61 L458.36,405.28 L458.62,405.98 L458.88,406.71 L459.13,407.46 L459.39,408.24 L459.65,409.04 L459.91,409.87 L460.17,410.71 L460.42,411.57 L460.68,412.44 L460.94,413.33 L461.20,414.22 L461.45,415.13 L461.71,416.04 L461.97,416.96 L462.23,417.88 L462.48,418.81 L462.74,419.73 L463.00,420.65 L463.25,421.57 L463.51,422.49 L463.77,423.40 L464.03,424.30 L464.28,425.20 L464.54,426.08 L464.80,426.96 L465.06,427.82 L465.32,428.67 L465.57,429.51 L465.83,430.34 L466.09,431.15 L466.35,431.94 L466.60,432.72 L466.86,433.49 L467.12,434.24 L467.38,434.97 L467.63,435.69 L467.89,436.39 L468.15,437.07 L468.40,437.74 L468.66,438.38 L468.92,439.02 L469.18,439.63 L469.43,440.23 L469.69,440.81 L469.95,441.38 L470.21,441.93 L470.47,442.46 L470.72,442.98 L470.98,443.48 L471.24,443.97 L471.50,444.44 L471.75,444.90 L472.01,445.35 L472.27,445.78 L472.52,446.19 L472.78,446.60 L473.04,446.99 L473.30,447.37 L473.55,447.73 L473.81,448.09 L474.07,448.43 L474.33,448.77 L474.58,449.09 L474.84,449.40 L475.10,449.70 L475.36,450.00 L475.62,450.28 L475.87,450.56 L476.13,450.83 L476.39,451.08 L476.65,451.33 L476.90,451.58 L477.16,451.81 L477.42,452.04 L477.68,452.27 L477.93,452.48 L478.19,452.69 L478.45,452.90 L478.70,453.09 L478.96,453.29 L479.22,453.47 L479.48,453.66 L479.73,453.83 L479.99,454.01 L480.25,454.18 L480.51,454.34 L480.77,454.50 L481.02,454.66 L481.28,454.81 L481.54,454.96 L481.80,455.10 L482.05,455.24 L482.31,455.38 L482.57,455.52 L482.82,455.65 L483.08,455.78 L483.34,455.91 L483.60,456.03 L483.85,456.15 L484.11,456.27 L484.37,456.39 L484.63,456.50 L484.88,456.61 L485.14,456.72 L485.40,456.83 L485.66,456.94 L485.92,457.04 L486.17,457.14 L486.43,457.24 L486.69,457.34 L486.95,457.44 L487.20,457.53 L487.46,457.62 L487.72,457.72 L487.98,457.81 L488.23,457.89 L488.49,457.98 L488.75,458.07 L489.00,458.15 L489.26,458.24 L489.52,458.32 L489.78,458.40 L490.03,458.48 L490.29,458.56 L490.55,458.63 L490.81,458.71 L491.07,458.78 L491.32,458.86 L491.58,458.93 L491.84,459.00 L492.10,459.07 L492.35,459.14 L492.61,459.21 L492.87,459.28 L493.12,459.35 L493.38,459.41 L493.64,459.48 L493.90,459.54 L494.15,459.61 L494.41,459.67 L494.67,459.73 L494.93,459.79 L495.18,459.85 L495.44,459.91 L495.70,459.97 L495.96,460.03 L496.22,460.09 L496.47,460.15 L496.73,460.20 L496.99,460.26 L497.25,460.31 L497.50,460.37 L497.76,460.42 L498.02,460.47 L498.27,460.52 L498.53,460.57 L498.79,460.63 L499.05,460.68 L499.30,460.72 L499.56,460.77 L499.82,460.82 L500.08,460.87 L500.33,460.92 L500.59,460.96 L500.85,461.01 L501.11,461.06 L501.37,461.10 L501.62,461.15 L501.88,461.19 L502.14,461.23 L502.40,461.28 L502.65,461.32 L502.91,461.36 L503.17,461.40 L503.43,461.44 L503.68,461.48 L503.94,461.52 L504.20,461.56 L504.45,461.60 L504.71,461.64 L504.97,461.68 L505.23,461.72 L505.48,461.76 L505.74,461.79 L506.00,461.83 L506.26,461.87 L506.52,461.90 L506.77,461.94 L507.03,461.97 L507.29,462.01 L507.55,462.04 L507.80,462.08 L508.06,462.11 L508.32,462.14 L508.57,462.18 L508.83,462.21 L509.09,462.24 L509.35,462.27 L509.60,462.30 L509.86,462.34 L510.12,462.37 L510.38,462.40 L510.63,462.43 L510.89,462.46 L511.15,462.49 L511.41,462.52 L511.67,462.55 L511.92,462.57 L512.18,462.60 L512.44,462.63 L512.70,462.66 L512.95,462.69 L513.21,462.71 L513.47,462.74 L513.73,462.77 L513.98,462.79 L514.24,462.82 L514.50,462.84 L514.75,462.87 L515.01,462.90 L515.27,462.92 L515.53,462.95 L515.78,462.97 L516.04,462.99 L516.30,463.02 L516.56,463.04 L516.82,463.07 L517.07,463.09 L517.33,463.11 L517.59,463.13 L517.85,463.16 L518.10,463.18 L518.36,463.20 L518.62,463.22 L518.88,463.25 L519.13,463.27 L519.39,463.29 L519.65,463.31 L519.90,463.33 L520.16,463.35 L520.42,463.37 L520.68,463.39 L520.93,463.41 L521.19,463.43 L521.45,463.45 L521.71,463.47 L521.97,463.49 L522.22,463.51 L522.48,463.53 L522.74,463.55 L523.00,463.57 L523.25,463.58 L523.51,463.60 L523.77,463.62 L524.02,463.64 L524.28,463.66 L524.54,463.67 L524.80,463.69 L525.05,463.71 L525.31,463.73 L525.57,463.74 L525.83,463.76 L526.08,463.78 L526.34,463.79 L526.60,463.81 L526.86,463.82 L527.12,463.84 L527.37,463.86 L527.63,463.87 L527.89,463.89 L528.14,463.90 L528.40,463.92 L528.66,463.93 L528.92,463.95 L529.17,463.96 L529.43,463.98 L529.69,463.99 L529.95,464.01 L530.20,464.02 L530.46,464.04 L530.72,464.05 L530.98,464.06 L531.23,464.08 L531.49,464.09 L531.75,464.10 L532.01,464.12 L532.27,464.13 L532.52,464.14 L532.78,464.16 L533.04,464.17 L533.30,464.18 L533.55,464.20 L533.81,464.21 L534.07,464.22 L534.33,464.23 L534.58,464.25 L534.84,464.26 L535.10,464.27 L535.36,464.28 L535.61,464.29 L535.87,464.31 L536.13,464.32 L536.38,464.33 L536.64,464.34 L536.90,464.35 L537.16,464.36 L537.42,464.38 L537.67,464.39 L537.93,464.40 L538.19,464.41 L538.45,464.42 L538.70,464.43 L538.96,464.44 L539.22,464.45 L539.48,464.46 L539.73,464.47 L539.99,464.48 L540.25,464.49 L540.50,464.50 L540.76,464.51 L541.02,464.52 L541.28,464.53 L541.53,464.54 L541.79,464.55 L542.05,464.56 L542.31,464.57 L542.57,464.58 L542.82,464.59 L543.08,464.60 L543.34,464.61 L543.60,464.62 L543.85,464.63 L544.11,464.64 L544.37,464.65 L544.62,464.65 L544.88,464.66 L545.14,464.67 L545.40,464.68 L545.65,464.69 L545.91,464.70 L546.17,464.71 L546.43,464.71 L546.68,464.72 L546.94,464.73 L547.20,464.74 L547.46,464.75 L547.72,464.76 L547.97,464.76 L548.23,464.77 L548.49,464.78 L548.75,464.79 L549.00,464.80 L549.26,464.80 L549.52,464.81 L549.77,464.82 L550.03,464.83 L550.29,464.83 L550.55,464.84 L550.80,464.85 L551.06,464.86 L551.32,464.86 L551.58,464.87 L551.83,464.88 L552.09,464.88 L552.35,464.89 L552.61,464.90 L552.87,464.91 L553.12,464.91 L553.38,464.92 L553.64,464.93 L553.89,464.93 L554.15,464.94 L554.41,464.95 L554.67,464.95 L554.92,464.96 L555.18,464.97 L555.44,464.97 L555.70,464.98 L555.95,464.98 L556.21,464.99 L556.47,465.00 L556.73,465.00 L556.98,465.01 L557.24,465.02 L557.50,465.02" fill="none" stroke="#000" stroke-width="2.5" clip-path="url(#cd)"/>
<path d="M351.50,461.71 L351.76,461.69 L352.02,461.68 L352.27,461.66 L352.53,461.65 L352.79,461.63 L353.05,461.62 L353.30,461.60 L353.56,461.58 L353.82,461.57 L354.07,461.55 L354.33,461.54 L354.59,461.52 L354.85,461.50 L355.10,461.49 L355.36,461.47 L355.62,461.45 L355.88,461.44 L356.13,461.42 L356.39,461.40 L356.65,461.39 L356.91,461.37 L357.17,461.35 L357.42,461.33 L357.68,461.32 L357.94,461.30 L358.20,461.28 L358.45,461.26 L358.71,461.24 L358.97,461.23 L359.23,461.21 L359.48,461.19 L359.74,461.17 L360.00,461.15 L360.25,461.13 L360.51,461.11 L360.77,461.09 L361.03,461.07 L361.28,461.05 L361.54,461.03 L361.80,461.01 L362.06,460.99 L362.32,460.97 L362.57,460.95 L362.83,460.93 L363.09,460.91 L363.35,460.89 L363.60,460.87 L363.86,460.85 L364.12,460.82 L364.38,460.80 L364.63,460.78 L364.89,460.76 L365.15,460.74 L365.40,460.71 L365.66,460.69 L365.92,460.67 L366.18,460.64 L366.43,460.62 L366.69,460.60 L366.95,460.57 L367.21,460.55 L367.47,460.53 L367.72,460.50 L367.98,460.48 L368.24,460.45 L368.50,460.43 L368.75,460.40 L369.01,460.38 L369.27,460.35 L369.52,460.33 L369.78,460.30 L370.04,460.27 L370.30,460.25 L370.55,460.22 L370.81,460.19 L371.07,460.17 L371.33,460.14 L371.58,460.11 L371.84,460.08 L372.10,460.05 L372.36,460.03 L372.62,460.00 L372.87,459.97 L373.13,459.94 L373.39,459.91 L373.65,459.88 L373.90,459.85 L374.16,459.82 L374.42,459.79 L374.68,459.76 L374.93,459.73 L375.19,459.70 L375.45,459.67 L375.70,459.63 L375.96,459.60 L376.22,459.57 L376.48,459.54 L376.73,459.50 L376.99,459.47 L377.25,459.44 L377.51,459.40 L377.77,459.37 L378.02,459.33 L378.28,459.30 L378.54,459.26 L378.80,459.23 L379.05,459.19 L379.31,459.16 L379.57,459.12 L379.82,459.08 L380.08,459.05 L380.34,459.01 L380.60,458.97 L380.85,458.93 L381.11,458.89 L381.37,458.86 L381.63,458.82 L381.88,458.78 L382.14,458.74 L382.40,458.70 L382.66,458.66 L382.92,458.61 L383.17,458.57 L383.43,458.53 L383.69,458.49 L383.95,458.45 L384.20,458.40 L384.46,458.36 L384.72,458.31 L384.98,458.27 L385.23,458.22 L385.49,458.18 L385.75,458.13 L386.00,458.09 L386.26,458.04 L386.52,457.99 L386.78,457.95 L387.03,457.90 L387.29,457.85 L387.55,457.80 L387.81,457.75 L388.07,457.70 L388.32,457.65 L388.58,457.60 L388.84,457.55 L389.10,457.49 L389.35,457.44 L389.61,457.39 L389.87,457.33 L390.12,457.28 L390.38,457.22 L390.64,457.17 L390.90,457.11 L391.15,457.06 L391.41,457.00 L391.67,456.94 L391.93,456.88 L392.18,456.82 L392.44,456.76 L392.70,456.70 L392.96,456.64 L393.22,456.58 L393.47,456.52 L393.73,456.46 L393.99,456.39 L394.25,456.33 L394.50,456.26 L394.76,456.20 L395.02,456.13 L395.27,456.07 L395.53,456.00 L395.79,455.93 L396.05,455.86 L396.30,455.79 L396.56,455.72 L396.82,455.65 L397.08,455.58 L397.33,455.50 L397.59,455.43 L397.85,455.36 L398.11,455.28 L398.37,455.20 L398.62,455.13 L398.88,455.05 L399.14,454.97 L399.40,454.89 L399.65,454.81 L399.91,454.73 L400.17,454.65 L400.43,454.56 L400.68,454.48 L400.94,454.40 L401.20,454.31 L401.45,454.22 L401.71,454.13 L401.97,454.05 L402.23,453.96 L402.48,453.86 L402.74,453.77 L403.00,453.68 L403.26,453.59 L403.52,453.49 L403.77,453.39 L404.03,453.30 L404.29,453.20 L404.55,453.10 L404.80,453.00 L405.06,452.90 L405.32,452.79 L405.57,452.69 L405.83,452.58 L406.09,452.48 L406.35,452.37 L406.60,452.26 L406.86,452.15 L407.12,452.04 L407.38,451.93 L407.63,451.81 L407.89,451.70 L408.15,451.58 L408.41,451.46 L408.67,451.34 L408.92,451.22 L409.18,451.10 L409.44,450.97 L409.70,450.85 L409.95,450.72 L410.21,450.59 L410.47,450.46 L410.73,450.33 L410.98,450.20 L411.24,450.06 L411.50,449.93 L411.75,449.79 L412.01,449.65 L412.27,449.51 L412.53,449.36 L412.78,449.22 L413.04,449.07 L413.30,448.92 L413.56,448.77 L413.82,448.62 L414.07,448.47 L414.33,448.31 L414.59,448.15 L414.85,447.99 L415.10,447.83 L415.36,447.67 L415.62,447.50 L415.88,447.34 L416.13,447.17 L416.39,446.99 L416.65,446.82 L416.90,446.64 L417.16,446.47 L417.42,446.28 L417.68,446.10 L417.93,445.92 L418.19,445.73 L418.45,445.54 L418.71,445.34 L418.97,445.15 L419.22,444.95 L419.48,444.75 L419.74,444.54 L420.00,444.34 L420.25,444.13 L420.51,443.91 L420.77,443.70 L421.02,443.48 L421.28,443.25 L421.54,443.03 L421.80,442.80 L422.05,442.56 L422.31,442.33 L422.57,442.09 L422.83,441.84 L423.08,441.59 L423.34,441.34 L423.60,441.08 L423.86,440.81 L424.12,440.54 L424.37,440.27 L424.63,439.99 L424.89,439.70 L425.15,439.41 L425.40,439.11 L425.66,438.81 L425.92,438.50 L426.18,438.18 L426.43,437.85 L426.69,437.52 L426.95,437.18 L427.20,436.83 L427.46,436.46 L427.72,436.09 L427.98,435.71 L428.23,435.32 L428.49,434.92 L428.75,434.51 L429.01,434.08 L429.27,433.65 L429.52,433.19 L429.78,432.73 L430.04,432.25 L430.30,431.75 L430.55,431.24 L430.81,430.71 L431.07,430.17 L431.32,429.61 L431.58,429.02 L431.84,428.42 L432.10,427.80 L432.35,427.16 L432.61,426.49 L432.87,425.80 L433.13,425.09 L433.38,424.36 L433.64,423.59 L433.90,422.81 L434.16,421.99 L434.42,421.15 L434.67,420.28 L434.93,419.38 L435.19,418.45 L435.45,417.49 L435.70,416.50 L435.96,415.48 L436.22,414.42 L436.48,413.34 L436.73,412.22 L436.99,411.06 L437.25,409.87 L437.50,408.65 L437.76,407.39 L438.02,406.09 L438.28,404.77 L438.53,403.40 L438.79,402.00 L439.05,400.57 L439.31,399.10 L439.57,397.60 L439.82,396.07 L440.08,394.50 L440.34,392.90 L440.60,391.27 L440.85,389.61 L441.11,387.93 L441.37,386.21 L441.62,384.47 L441.88,382.70 L442.14,380.91 L442.40,379.10 L442.65,377.27 L442.91,375.43 L443.17,373.57 L443.43,371.69 L443.68,369.81 L443.94,367.92 L444.20,366.03 L444.46,364.13 L444.72,362.24 L444.97,360.34 L445.23,358.46 L445.49,356.59 L445.75,354.73 L446.00,352.89 L446.26,351.07 L446.52,349.27 L446.77,347.50 L447.03,345.76 L447.29,344.05 L447.55,342.38 L447.80,340.76 L448.06,339.18 L448.32,337.64 L448.58,336.16 L448.83,334.73 L449.09,333.36 L449.35,332.05 L449.61,330.81 L449.87,329.63 L450.12,328.52 L450.38,327.48 L450.64,326.52 L450.90,325.63 L451.15,324.83 L451.41,324.10 L451.67,323.46 L451.93,322.90 L452.18,322.43 L452.44,322.05 L452.70,321.75 L452.95,321.54 L453.21,321.42 L453.47,321.39 L453.73,321.45 L453.98,321.60 L454.24,321.84 L454.50,322.17 L454.76,322.59 L455.02,323.09 L455.27,323.67 L455.53,324.35 L455.79,325.10 L456.05,325.93 L456.30,326.85 L456.56,327.84 L456.82,328.90 L457.07,330.03 L457.33,331.24 L457.59,332.51 L457.85,333.84 L458.10,335.23 L458.36,336.68 L458.62,338.18 L458.88,339.74 L459.13,341.34 L459.39,342.98 L459.65,344.67 L459.91,346.39 L460.17,348.14 L460.42,349.93 L460.68,351.74 L460.94,353.57 L461.20,355.42 L461.45,357.29 L461.71,359.17 L461.97,361.07 L462.23,362.96 L462.48,364.87 L462.74,366.77 L463.00,368.67 L463.25,370.56 L463.51,372.45 L463.77,374.32 L464.03,376.18 L464.28,378.03 L464.54,379.86 L464.80,381.67 L465.06,383.46 L465.32,385.23 L465.57,386.97 L465.83,388.68 L466.09,390.37 L466.35,392.02 L466.60,393.65 L466.86,395.25 L467.12,396.81 L467.38,398.34 L467.63,399.84 L467.89,401.30 L468.15,402.73 L468.40,404.12 L468.66,405.48 L468.92,406.81 L469.18,408.10 L469.43,409.35 L469.69,410.57 L469.95,411.76 L470.21,412.91 L470.47,414.03 L470.72,415.11 L470.98,416.16 L471.24,417.18 L471.50,418.17 L471.75,419.13 L472.01,420.05 L472.27,420.95 L472.52,421.82 L472.78,422.66 L473.04,423.47 L473.30,424.26 L473.55,425.01 L473.81,425.75 L474.07,426.46 L474.33,427.15 L474.58,427.81 L474.84,428.46 L475.10,429.08 L475.36,429.68 L475.62,430.26 L475.87,430.83 L476.13,431.37 L476.39,431.90 L476.65,432.41 L476.90,432.91 L477.16,433.39 L477.42,433.86 L477.68,434.31 L477.93,434.75 L478.19,435.18 L478.45,435.59 L478.70,436.00 L478.96,436.39 L479.22,436.77 L479.48,437.15 L479.73,437.51 L479.99,437.86 L480.25,438.21 L480.51,438.55 L480.77,438.88 L481.02,439.20 L481.28,439.51 L481.54,439.82 L481.80,440.12 L482.05,440.42 L482.31,440.71 L482.57,440.99 L482.82,441.27 L483.08,441.54 L483.34,441.81 L483.60,442.08 L483.85,442.33 L484.11,442.59 L484.37,442.84 L484.63,443.09 L484.88,443.33 L485.14,443.57 L485.40,443.80 L485.66,444.03 L485.92,444.26 L486.17,444.48 L486.43,444.70 L486.69,444.92 L486.95,445.13 L487.20,445.35 L487.46,445.56 L487.72,445.76 L487.98,445.96 L488.23,446.16 L488.49,446.36 L488.75,446.56 L489.00,446.75 L489.26,446.94 L489.52,447.13 L489.78,447.31 L490.03,447.50 L490.29,447.68 L490.55,447.86 L490.81,448.03 L491.07,448.21 L491.32,448.38 L491.58,448.55 L491.84,448.72 L492.10,448.89 L492.35,449.05 L492.61,449.21 L492.87,449.37 L493.12,449.53 L493.38,449.69 L493.64,449.84 L493.90,450.00 L494.15,450.15 L494.41,450.30 L494.67,450.45 L494.93,450.59 L495.18,450.74 L495.44,450.88 L495.70,451.02 L495.96,451.16 L496.22,451.30 L496.47,451.43 L496.73,451.57 L496.99,451.70 L497.25,451.83 L497.50,451.96 L497.76,452.09 L498.02,452.22 L498.27,452.35 L498.53,452.47 L498.79,452.59 L499.05,452.72 L499.30,452.84 L499.56,452.95 L499.82,453.07 L500.08,453.19 L500.33,453.30 L500.59,453.42 L500.85,453.53 L501.11,453.64 L501.37,453.75 L501.62,453.86 L501.88,453.97 L502.14,454.07 L502.40,454.18 L502.65,454.28 L502.91,454.39 L503.17,454.49 L503.43,454.59 L503.68,454.69 L503.94,454.79 L504.20,454.89 L504.45,454.98 L504.71,455.08 L504.97,455.17 L505.23,455.27 L505.48,455.36 L505.74,455.45 L506.00,455.54 L506.26,455.63 L506.52,455.72 L506.77,455.81 L507.03,455.89 L507.29,455.98 L507.55,456.06 L507.80,456.15 L508.06,456.23 L508.32,456.31 L508.57,456.40 L508.83,456.48 L509.09,456.56 L509.35,456.64 L509.60,456.71 L509.86,456.79 L510.12,456.87 L510.38,456.94 L510.63,457.02 L510.89,457.09 L511.15,457.17 L511.41,457.24 L511.67,457.31 L511.92,457.38 L512.18,457.45 L512.44,457.52 L512.70,457.59 L512.95,457.66 L513.21,457.73 L513.47,457.80 L513.73,457.86 L513.98,457.93 L514.24,457.99 L514.50,458.06 L514.75,458.12 L515.01,458.19 L515.27,458.25 L515.53,458.31 L515.78,458.37 L516.04,458.43 L516.30,458.49 L516.56,458.55 L516.82,458.61 L517.07,458.67 L517.33,458.73 L517.59,458.79 L517.85,458.84 L518.10,458.90 L518.36,458.96 L518.62,459.01 L518.88,459.07 L519.13,459.12 L519.39,459.18 L519.65,459.23 L519.90,459.28 L520.16,459.33 L520.42,459.39 L520.68,459.44 L520.93,459.49 L521.19,459.54 L521.45,459.59 L521.71,459.64 L521.97,459.69 L522.22,459.74 L522.48,459.79 L522.74,459.83 L523.00,459.88 L523.25,459.93 L523.51,459.97 L523.77,460.02 L524.02,460.07 L524.28,460.11 L524.54,460.16 L524.80,460.20 L525.05,460.24 L525.31,460.29 L525.57,460.33 L525.83,460.37 L526.08,460.42 L526.34,460.46 L526.60,460.50 L526.86,460.54 L527.12,460.58 L527.37,460.63 L527.63,460.67 L527.89,460.71 L528.14,460.75 L528.40,460.79 L528.66,460.82 L528.92,460.86 L529.17,460.90 L529.43,460.94 L529.69,460.98 L529.95,461.01 L530.20,461.05 L530.46,461.09 L530.72,461.13 L530.98,461.16 L531.23,461.20 L531.49,461.23 L531.75,461.27 L532.01,461.30 L532.27,461.34 L532.52,461.37 L532.78,461.41 L533.04,461.44 L533.30,461.47 L533.55,461.51 L533.81,461.54 L534.07,461.57 L534.33,461.61 L534.58,461.64 L534.84,461.67 L535.10,461.70 L535.36,461.73 L535.61,461.77 L535.87,461.80 L536.13,461.83 L536.38,461.86 L536.64,461.89 L536.90,461.92 L537.16,461.95 L537.42,461.98 L537.67,462.01 L537.93,462.04 L538.19,462.07 L538.45,462.10 L538.70,462.12 L538.96,462.15 L539.22,462.18 L539.48,462.21 L539.73,462.24 L539.99,462.26 L540.25,462.29 L540.50,462.32 L540.76,462.34 L541.02,462.37 L541.28,462.40 L541.53,462.42 L541.79,462.45 L542.05,462.48 L542.31,462.50 L542.57,462.53 L542.82,462.55 L543.08,462.58 L543.34,462.60 L543.60,462.63 L543.85,462.65 L544.11,462.68 L544.37,462.70 L544.62,462.72 L544.88,462.75 L545.14,462.77 L545.40,462.79 L545.65,462.82 L545.91,462.84 L546.17,462.86 L546.43,462.89 L546.68,462.91 L546.94,462.93 L547.20,462.95 L547.46,462.98 L547.72,463.00 L547.97,463.02 L548.23,463.04 L548.49,463.06 L548.75,463.08 L549.00,463.11 L549.26,463.13 L549.52,463.15 L549.77,463.17 L550.03,463.19 L550.29,463.21 L550.55,463.23 L550.80,463.25 L551.06,463.27 L551.32,463.29 L551.58,463.31 L551.83,463.33 L552.09,463.35 L552.35,463.37 L552.61,463.39 L552.87,463.41 L553.12,463.43 L553.38,463.45 L553.64,463.46 L553.89,463.48 L554.15,463.50 L554.41,463.52 L554.67,463.54 L554.92,463.56 L555.18,463.57 L555.44,463.59 L555.70,463.61 L555.95,463.63 L556.21,463.65 L556.47,463.66 L556.73,463.68 L556.98,463.70 L557.24,463.71 L557.50,463.73" fill="none" stroke="#ff0000" stroke-width="2.7" stroke-dasharray="7.2,3.4" clip-path="url(#cd)"/>
<path d="M351.50,461.60 L351.76,461.58 L352.02,461.57 L352.27,461.55 L352.53,461.53 L352.79,461.51 L353.05,461.50 L353.30,461.48 L353.56,461.46 L353.82,461.44 L354.07,461.43 L354.33,461.41 L354.59,461.39 L354.85,461.37 L355.10,461.35 L355.36,461.33 L355.62,461.32 L355.88,461.30 L356.13,461.28 L356.39,461.26 L356.65,461.24 L356.91,461.22 L357.17,461.20 L357.42,461.18 L357.68,461.16 L357.94,461.14 L358.20,461.12 L358.45,461.10 L358.71,461.08 L358.97,461.06 L359.23,461.04 L359.48,461.02 L359.74,461.00 L360.00,460.98 L360.25,460.96 L360.51,460.94 L360.77,460.92 L361.03,460.90 L361.28,460.87 L361.54,460.85 L361.80,460.83 L362.06,460.81 L362.32,460.79 L362.57,460.76 L362.83,460.74 L363.09,460.72 L363.35,460.70 L363.60,460.67 L363.86,460.65 L364.12,460.63 L364.38,460.60 L364.63,460.58 L364.89,460.56 L365.15,460.53 L365.40,460.51 L365.66,460.49 L365.92,460.46 L366.18,460.44 L366.43,460.41 L366.69,460.39 L366.95,460.36 L367.21,460.34 L367.47,460.31 L367.72,460.29 L367.98,460.26 L368.24,460.23 L368.50,460.21 L368.75,460.18 L369.01,460.15 L369.27,460.13 L369.52,460.10 L369.78,460.07 L370.04,460.05 L370.30,460.02 L370.55,459.99 L370.81,459.96 L371.07,459.94 L371.33,459.91 L371.58,459.88 L371.84,459.85 L372.10,459.82 L372.36,459.79 L372.62,459.76 L372.87,459.73 L373.13,459.70 L373.39,459.67 L373.65,459.64 L373.90,459.61 L374.16,459.58 L374.42,459.55 L374.68,459.52 L374.93,459.49 L375.19,459.45 L375.45,459.42 L375.70,459.39 L375.96,459.36 L376.22,459.33 L376.48,459.29 L376.73,459.26 L376.99,459.23 L377.25,459.19 L377.51,459.16 L377.77,459.12 L378.02,459.09 L378.28,459.05 L378.54,459.02 L378.80,458.98 L379.05,458.95 L379.31,458.91 L379.57,458.87 L379.82,458.84 L380.08,458.80 L380.34,458.76 L380.60,458.73 L380.85,458.69 L381.11,458.65 L381.37,458.61 L381.63,458.57 L381.88,458.53 L382.14,458.49 L382.40,458.45 L382.66,458.41 L382.92,458.37 L383.17,458.33 L383.43,458.29 L383.69,458.25 L383.95,458.21 L384.20,458.17 L384.46,458.12 L384.72,458.08 L384.98,458.04 L385.23,457.99 L385.49,457.95 L385.75,457.90 L386.00,457.86 L386.26,457.81 L386.52,457.77 L386.78,457.72 L387.03,457.68 L387.29,457.63 L387.55,457.58 L387.81,457.54 L388.07,457.49 L388.32,457.44 L388.58,457.39 L388.84,457.34 L389.10,457.29 L389.35,457.24 L389.61,457.19 L389.87,457.14 L390.12,457.09 L390.38,457.04 L390.64,456.98 L390.90,456.93 L391.15,456.88 L391.41,456.82 L391.67,456.77 L391.93,456.71 L392.18,456.66 L392.44,456.60 L392.70,456.54 L392.96,456.49 L393.22,456.43 L393.47,456.37 L393.73,456.31 L393.99,456.25 L394.25,456.19 L394.50,456.13 L394.76,456.07 L395.02,456.01 L395.27,455.95 L395.53,455.89 L395.79,455.82 L396.05,455.76 L396.30,455.70 L396.56,455.63 L396.82,455.57 L397.08,455.50 L397.33,455.43 L397.59,455.36 L397.85,455.30 L398.11,455.23 L398.37,455.16 L398.62,455.09 L398.88,455.02 L399.14,454.95 L399.40,454.87 L399.65,454.80 L399.91,454.73 L400.17,454.65 L400.43,454.58 L400.68,454.50 L400.94,454.42 L401.20,454.35 L401.45,454.27 L401.71,454.19 L401.97,454.11 L402.23,454.03 L402.48,453.95 L402.74,453.86 L403.00,453.78 L403.26,453.70 L403.52,453.61 L403.77,453.53 L404.03,453.44 L404.29,453.35 L404.55,453.26 L404.80,453.17 L405.06,453.08 L405.32,452.99 L405.57,452.90 L405.83,452.81 L406.09,452.71 L406.35,452.62 L406.60,452.52 L406.86,452.42 L407.12,452.33 L407.38,452.23 L407.63,452.13 L407.89,452.02 L408.15,451.92 L408.41,451.82 L408.67,451.71 L408.92,451.61 L409.18,451.50 L409.44,451.39 L409.70,451.28 L409.95,451.17 L410.21,451.06 L410.47,450.94 L410.73,450.83 L410.98,450.71 L411.24,450.60 L411.50,450.48 L411.75,450.36 L412.01,450.24 L412.27,450.11 L412.53,449.99 L412.78,449.86 L413.04,449.73 L413.30,449.60 L413.56,449.47 L413.82,449.34 L414.07,449.21 L414.33,449.07 L414.59,448.93 L414.85,448.79 L415.10,448.65 L415.36,448.51 L415.62,448.36 L415.88,448.21 L416.13,448.06 L416.39,447.91 L416.65,447.76 L416.90,447.60 L417.16,447.44 L417.42,447.28 L417.68,447.12 L417.93,446.95 L418.19,446.79 L418.45,446.61 L418.71,446.44 L418.97,446.26 L419.22,446.08 L419.48,445.90 L419.74,445.71 L420.00,445.52 L420.25,445.33 L420.51,445.13 L420.77,444.93 L421.02,444.73 L421.28,444.52 L421.54,444.30 L421.80,444.09 L422.05,443.86 L422.31,443.64 L422.57,443.41 L422.83,443.17 L423.08,442.93 L423.34,442.68 L423.60,442.42 L423.86,442.16 L424.12,441.90 L424.37,441.63 L424.63,441.35 L424.89,441.06 L425.15,440.76 L425.40,440.46 L425.66,440.15 L425.92,439.83 L426.18,439.51 L426.43,439.17 L426.69,438.82 L426.95,438.47 L427.20,438.10 L427.46,437.72 L427.72,437.33 L427.98,436.93 L428.23,436.52 L428.49,436.10 L428.75,435.66 L429.01,435.21 L429.27,434.74 L429.52,434.26 L429.78,433.77 L430.04,433.26 L430.30,432.73 L430.55,432.19 L430.81,431.63 L431.07,431.05 L431.32,430.46 L431.58,429.84 L431.84,429.21 L432.10,428.56 L432.35,427.88 L432.61,427.19 L432.87,426.47 L433.13,425.74 L433.38,424.98 L433.64,424.19 L433.90,423.39 L434.16,422.55 L434.42,421.70 L434.67,420.82 L434.93,419.92 L435.19,418.99 L435.45,418.03 L435.70,417.05 L435.96,416.04 L436.22,415.00 L436.48,413.94 L436.73,412.86 L436.99,411.74 L437.25,410.60 L437.50,409.43 L437.76,408.24 L438.02,407.01 L438.28,405.77 L438.53,404.49 L438.79,403.20 L439.05,401.87 L439.31,400.52 L439.57,399.15 L439.82,397.76 L440.08,396.34 L440.34,394.91 L440.60,393.45 L440.85,391.97 L441.11,390.48 L441.37,388.97 L441.62,387.44 L441.88,385.90 L442.14,384.35 L442.40,382.79 L442.65,381.21 L442.91,379.63 L443.17,378.05 L443.43,376.46 L443.68,374.87 L443.94,373.29 L444.20,371.70 L444.46,370.12 L444.72,368.55 L444.97,366.99 L445.23,365.44 L445.49,363.91 L445.75,362.39 L446.00,360.89 L446.26,359.42 L446.52,357.97 L446.77,356.55 L447.03,355.16 L447.29,353.80 L447.55,352.48 L447.80,351.19 L448.06,349.95 L448.32,348.75 L448.58,347.59 L448.83,346.48 L449.09,345.42 L449.35,344.42 L449.61,343.47 L449.87,342.57 L450.12,341.73 L450.38,340.95 L450.64,340.24 L450.90,339.58 L451.15,339.00 L451.41,338.47 L451.67,338.02 L451.93,337.63 L452.18,337.32 L452.44,337.07 L452.70,336.89 L452.95,336.78 L453.21,336.75 L453.47,336.78 L453.73,336.89 L453.98,337.07 L454.24,337.32 L454.50,337.64 L454.76,338.03 L455.02,338.48 L455.27,339.01 L455.53,339.60 L455.79,340.25 L456.05,340.97 L456.30,341.75 L456.56,342.60 L456.82,343.50 L457.07,344.46 L457.33,345.47 L457.59,346.54 L457.85,347.65 L458.10,348.82 L458.36,350.03 L458.62,351.28 L458.88,352.58 L459.13,353.91 L459.39,355.28 L459.65,356.69 L459.91,358.13 L460.17,359.59 L460.42,361.08 L460.68,362.59 L460.94,364.13 L461.20,365.68 L461.45,367.25 L461.71,368.83 L461.97,370.43 L462.23,372.03 L462.48,373.63 L462.74,375.25 L463.00,376.86 L463.25,378.47 L463.51,380.08 L463.77,381.69 L464.03,383.28 L464.28,384.87 L464.54,386.45 L464.80,388.02 L465.06,389.58 L465.32,391.12 L465.57,392.64 L465.83,394.15 L466.09,395.63 L466.35,397.10 L466.60,398.55 L466.86,399.97 L467.12,401.37 L467.38,402.75 L467.63,404.11 L467.89,405.44 L468.15,406.74 L468.40,408.02 L468.66,409.27 L468.92,410.49 L469.18,411.69 L469.43,412.87 L469.69,414.01 L469.95,415.13 L470.21,416.22 L470.47,417.29 L470.72,418.32 L470.98,419.33 L471.24,420.32 L471.50,421.28 L471.75,422.21 L472.01,423.12 L472.27,424.00 L472.52,424.86 L472.78,425.70 L473.04,426.51 L473.30,427.29 L473.55,428.06 L473.81,428.80 L474.07,429.52 L474.33,430.22 L474.58,430.90 L474.84,431.55 L475.10,432.19 L475.36,432.81 L475.62,433.41 L475.87,434.00 L476.13,434.56 L476.39,435.11 L476.65,435.64 L476.90,436.16 L477.16,436.66 L477.42,437.14 L477.68,437.62 L477.93,438.07 L478.19,438.52 L478.45,438.95 L478.70,439.37 L478.96,439.78 L479.22,440.17 L479.48,440.56 L479.73,440.93 L479.99,441.29 L480.25,441.65 L480.51,441.99 L480.77,442.33 L481.02,442.66 L481.28,442.97 L481.54,443.28 L481.80,443.59 L482.05,443.88 L482.31,444.17 L482.57,444.45 L482.82,444.72 L483.08,444.99 L483.34,445.26 L483.60,445.51 L483.85,445.76 L484.11,446.01 L484.37,446.25 L484.63,446.48 L484.88,446.71 L485.14,446.94 L485.40,447.16 L485.66,447.37 L485.92,447.59 L486.17,447.80 L486.43,448.00 L486.69,448.20 L486.95,448.40 L487.20,448.59 L487.46,448.78 L487.72,448.97 L487.98,449.16 L488.23,449.34 L488.49,449.52 L488.75,449.69 L489.00,449.86 L489.26,450.03 L489.52,450.20 L489.78,450.37 L490.03,450.53 L490.29,450.69 L490.55,450.85 L490.81,451.00 L491.07,451.16 L491.32,451.31 L491.58,451.46 L491.84,451.61 L492.10,451.75 L492.35,451.89 L492.61,452.04 L492.87,452.18 L493.12,452.31 L493.38,452.45 L493.64,452.58 L493.90,452.72 L494.15,452.85 L494.41,452.98 L494.67,453.10 L494.93,453.23 L495.18,453.36 L495.44,453.48 L495.70,453.60 L495.96,453.72 L496.22,453.84 L496.47,453.96 L496.73,454.07 L496.99,454.19 L497.25,454.30 L497.50,454.41 L497.76,454.52 L498.02,454.63 L498.27,454.74 L498.53,454.85 L498.79,454.95 L499.05,455.06 L499.30,455.16 L499.56,455.26 L499.82,455.37 L500.08,455.47 L500.33,455.56 L500.59,455.66 L500.85,455.76 L501.11,455.85 L501.37,455.95 L501.62,456.04 L501.88,456.13 L502.14,456.23 L502.40,456.32 L502.65,456.41 L502.91,456.49 L503.17,456.58 L503.43,456.67 L503.68,456.75 L503.94,456.84 L504.20,456.92 L504.45,457.00 L504.71,457.09 L504.97,457.17 L505.23,457.25 L505.48,457.33 L505.74,457.41 L506.00,457.48 L506.26,457.56 L506.52,457.64 L506.77,457.71 L507.03,457.78 L507.29,457.86 L507.55,457.93 L507.80,458.00 L508.06,458.07 L508.32,458.14 L508.57,458.21 L508.83,458.28 L509.09,458.35 L509.35,458.42 L509.60,458.49 L509.86,458.55 L510.12,458.62 L510.38,458.68 L510.63,458.75 L510.89,458.81 L511.15,458.87 L511.41,458.93 L511.67,459.00 L511.92,459.06 L512.18,459.12 L512.44,459.18 L512.70,459.24 L512.95,459.29 L513.21,459.35 L513.47,459.41 L513.73,459.47 L513.98,459.52 L514.24,459.58 L514.50,459.63 L514.75,459.69 L515.01,459.74 L515.27,459.79 L515.53,459.85 L515.78,459.90 L516.04,459.95 L516.30,460.00 L516.56,460.05 L516.82,460.10 L517.07,460.15 L517.33,460.20 L517.59,460.25 L517.85,460.30 L518.10,460.35 L518.36,460.39 L518.62,460.44 L518.88,460.49 L519.13,460.53 L519.39,460.58 L519.65,460.62 L519.90,460.67 L520.16,460.71 L520.42,460.75 L520.68,460.80 L520.93,460.84 L521.19,460.88 L521.45,460.92 L521.71,460.97 L521.97,461.01 L522.22,461.05 L522.48,461.09 L522.74,461.13 L523.00,461.17 L523.25,461.21 L523.51,461.25 L523.77,461.29 L524.02,461.32 L524.28,461.36 L524.54,461.40 L524.80,461.44 L525.05,461.47 L525.31,461.51 L525.57,461.54 L525.83,461.58 L526.08,461.62 L526.34,461.65 L526.60,461.69 L526.86,461.72 L527.12,461.75 L527.37,461.79 L527.63,461.82 L527.89,461.85 L528.14,461.89 L528.40,461.92 L528.66,461.95 L528.92,461.98 L529.17,462.02 L529.43,462.05 L529.69,462.08 L529.95,462.11 L530.20,462.14 L530.46,462.17 L530.72,462.20 L530.98,462.23 L531.23,462.26 L531.49,462.29 L531.75,462.32 L532.01,462.34 L532.27,462.37 L532.52,462.40 L532.78,462.43 L533.04,462.46 L533.30,462.48 L533.55,462.51 L533.81,462.54 L534.07,462.56 L534.33,462.59 L534.58,462.62 L534.84,462.64 L535.10,462.67 L535.36,462.69 L535.61,462.72 L535.87,462.74 L536.13,462.77 L536.38,462.79 L536.64,462.82 L536.90,462.84 L537.16,462.87 L537.42,462.89 L537.67,462.91 L537.93,462.94 L538.19,462.96 L538.45,462.98 L538.70,463.01 L538.96,463.03 L539.22,463.05 L539.48,463.07 L539.73,463.10 L539.99,463.12 L540.25,463.14 L540.50,463.16 L540.76,463.18 L541.02,463.20 L541.28,463.22 L541.53,463.24 L541.79,463.26 L542.05,463.29 L542.31,463.31 L542.57,463.33 L542.82,463.35 L543.08,463.37 L543.34,463.38 L543.60,463.40 L543.85,463.42 L544.11,463.44 L544.37,463.46 L544.62,463.48 L544.88,463.50 L545.14,463.52 L545.40,463.54 L545.65,463.55 L545.91,463.57 L546.17,463.59 L546.43,463.61 L546.68,463.62 L546.94,463.64 L547.20,463.66 L547.46,463.68 L547.72,463.69 L547.97,463.71 L548.23,463.73 L548.49,463.74 L548.75,463.76 L549.00,463.78 L549.26,463.79 L549.52,463.81 L549.77,463.83 L550.03,463.84 L550.29,463.86 L550.55,463.87 L550.80,463.89 L551.06,463.90 L551.32,463.92 L551.58,463.93 L551.83,463.95 L552.09,463.96 L552.35,463.98 L552.61,463.99 L552.87,464.01 L553.12,464.02 L553.38,464.04 L553.64,464.05 L553.89,464.06 L554.15,464.08 L554.41,464.09 L554.67,464.11 L554.92,464.12 L555.18,464.13 L555.44,464.15 L555.70,464.16 L555.95,464.17 L556.21,464.19 L556.47,464.20 L556.73,464.21 L556.98,464.23 L557.24,464.24 L557.50,464.25" fill="none" stroke="#0000ff" stroke-width="2.7" stroke-dasharray="7.2,3.4,3.0,3.4" clip-path="url(#cd)"/>
</svg>
</body></html>
